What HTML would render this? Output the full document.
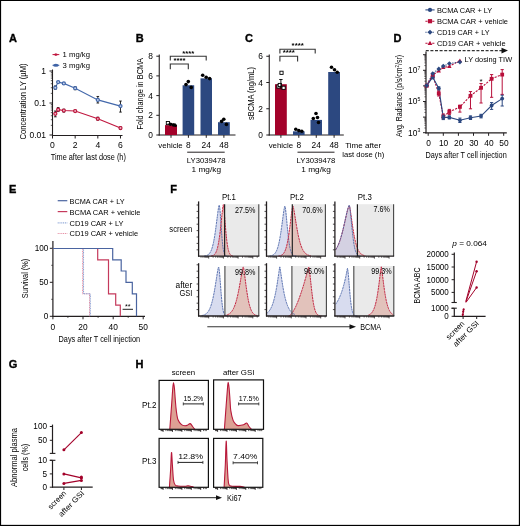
<!DOCTYPE html>
<html><head><meta charset="utf-8"><style>
html,body{margin:0;padding:0;background:#fff;}
svg{display:block;font-family:"Liberation Sans",sans-serif;will-change:transform;}
</style></head><body>
<svg width="520" height="526" viewBox="0 0 520 526">
<rect x="0" y="0" width="520" height="526" fill="#fff"/>
<text x="9" y="41.9" font-size="11" font-weight="bold" fill="#000" stroke="#000" stroke-width="0.35">A</text>
<text x="135.7" y="41.9" font-size="11" font-weight="bold" fill="#000" stroke="#000" stroke-width="0.35">B</text>
<text x="245" y="42.4" font-size="11" font-weight="bold" fill="#000" stroke="#000" stroke-width="0.35">C</text>
<text x="393.5" y="41.9" font-size="11" font-weight="bold" fill="#000" stroke="#000" stroke-width="0.35">D</text>
<text x="9" y="192.6" font-size="11" font-weight="bold" fill="#000" stroke="#000" stroke-width="0.35">E</text>
<text x="170.2" y="192.7" font-size="11" font-weight="bold" fill="#000" stroke="#000" stroke-width="0.35">F</text>
<text x="8.7" y="368.2" font-size="11" font-weight="bold" fill="#000" stroke="#000" stroke-width="0.35">G</text>
<text x="135.4" y="367.7" font-size="11" font-weight="bold" fill="#000" stroke="#000" stroke-width="0.35">H</text>
<line x1="52.5" y1="54.6" x2="59.3" y2="54.6" stroke="#c0173f" stroke-width="1.0"/>
<polygon points="53.2,54.6 55.9,53.2 58.6,54.6 55.9,56" fill="#c0173f" stroke="none" stroke-width="1"/>
<text x="62.6" y="56.9" font-size="7.9" textLength="27.4" lengthAdjust="spacingAndGlyphs">1 mg/kg</text>
<line x1="52.5" y1="65.3" x2="59.3" y2="65.3" stroke="#4368ab" stroke-width="1.0"/>
<ellipse cx="55.9" cy="65.3" rx="2.8" ry="1.5" fill="#3f63a6"/>
<text x="62.6" y="68.2" font-size="7.9" textLength="27.4" lengthAdjust="spacingAndGlyphs">3 mg/kg</text>
<line x1="52.5" y1="69.5" x2="52.5" y2="136" stroke="#231f20" stroke-width="1.1"/>
<line x1="52" y1="135.5" x2="122.5" y2="135.5" stroke="#231f20" stroke-width="1.1"/>
<line x1="49.5" y1="71" x2="52.5" y2="71" stroke="#231f20" stroke-width="1"/>
<text x="46" y="74" font-size="8.5" text-anchor="end">1</text>
<line x1="49.5" y1="103" x2="52.5" y2="103" stroke="#231f20" stroke-width="1"/>
<text x="46" y="106" font-size="8.5" text-anchor="end">0.1</text>
<line x1="49.5" y1="135" x2="52.5" y2="135" stroke="#231f20" stroke-width="1"/>
<text x="46" y="138" font-size="8.5" text-anchor="end">0.01</text>
<line x1="50.8" y1="125.37" x2="52.5" y2="125.37" stroke="#231f20" stroke-width="0.7"/>
<line x1="50.8" y1="119.73" x2="52.5" y2="119.73" stroke="#231f20" stroke-width="0.7"/>
<line x1="50.8" y1="115.73" x2="52.5" y2="115.73" stroke="#231f20" stroke-width="0.7"/>
<line x1="50.8" y1="112.63" x2="52.5" y2="112.63" stroke="#231f20" stroke-width="0.7"/>
<line x1="50.8" y1="110.1" x2="52.5" y2="110.1" stroke="#231f20" stroke-width="0.7"/>
<line x1="50.8" y1="107.96" x2="52.5" y2="107.96" stroke="#231f20" stroke-width="0.7"/>
<line x1="50.8" y1="106.1" x2="52.5" y2="106.1" stroke="#231f20" stroke-width="0.7"/>
<line x1="50.8" y1="104.46" x2="52.5" y2="104.46" stroke="#231f20" stroke-width="0.7"/>
<line x1="50.8" y1="93.37" x2="52.5" y2="93.37" stroke="#231f20" stroke-width="0.7"/>
<line x1="50.8" y1="87.73" x2="52.5" y2="87.73" stroke="#231f20" stroke-width="0.7"/>
<line x1="50.8" y1="83.73" x2="52.5" y2="83.73" stroke="#231f20" stroke-width="0.7"/>
<line x1="50.8" y1="80.63" x2="52.5" y2="80.63" stroke="#231f20" stroke-width="0.7"/>
<line x1="50.8" y1="78.1" x2="52.5" y2="78.1" stroke="#231f20" stroke-width="0.7"/>
<line x1="50.8" y1="75.96" x2="52.5" y2="75.96" stroke="#231f20" stroke-width="0.7"/>
<line x1="50.8" y1="74.1" x2="52.5" y2="74.1" stroke="#231f20" stroke-width="0.7"/>
<line x1="50.8" y1="72.46" x2="52.5" y2="72.46" stroke="#231f20" stroke-width="0.7"/>
<line x1="52.5" y1="135.5" x2="52.5" y2="138.5" stroke="#231f20" stroke-width="1"/>
<text x="52.5" y="148.4" font-size="8.6" text-anchor="middle">0</text>
<line x1="75.16" y1="135.5" x2="75.16" y2="138.5" stroke="#231f20" stroke-width="1"/>
<text x="75.16" y="148.4" font-size="8.6" text-anchor="middle">2</text>
<line x1="97.82" y1="135.5" x2="97.82" y2="138.5" stroke="#231f20" stroke-width="1"/>
<text x="97.82" y="148.4" font-size="8.6" text-anchor="middle">4</text>
<line x1="120.48" y1="135.5" x2="120.48" y2="138.5" stroke="#231f20" stroke-width="1"/>
<text x="120.48" y="148.4" font-size="8.6" text-anchor="middle">6</text>
<text x="88.3" y="160.4" font-size="9.3" text-anchor="middle" textLength="75.2" lengthAdjust="spacingAndGlyphs">Time after last dose (h)</text>
<text x="25.6" y="101.5" font-size="9.2" text-anchor="middle" textLength="76" lengthAdjust="spacingAndGlyphs" transform="rotate(-90 25.6 101.5)">Concentration LY (µM)</text>
<polyline points="55.33,87.73 58.16,82.1 63.83,83.39 75.16,88.2 97.82,99.9 120.48,106.1" stroke="#4368ab" stroke-width="1.1" fill="none"/>
<line x1="55.33" y1="85.99" x2="55.33" y2="89.2" stroke="#111" stroke-width="0.9"/>
<line x1="54.03" y1="85.99" x2="56.63" y2="85.99" stroke="#111" stroke-width="0.9"/>
<line x1="54.03" y1="89.2" x2="56.63" y2="89.2" stroke="#111" stroke-width="0.9"/>
<circle cx="55.33" cy="87.73" r="1.55" fill="#c9d3ea" stroke="#4368ab" stroke-width="1.2"/>
<line x1="58.16" y1="81.49" x2="58.16" y2="82.73" stroke="#111" stroke-width="0.9"/>
<line x1="56.87" y1="81.49" x2="59.46" y2="81.49" stroke="#111" stroke-width="0.9"/>
<line x1="56.87" y1="82.73" x2="59.46" y2="82.73" stroke="#111" stroke-width="0.9"/>
<circle cx="58.16" cy="82.1" r="1.55" fill="#c9d3ea" stroke="#4368ab" stroke-width="1.2"/>
<line x1="63.83" y1="82.73" x2="63.83" y2="84.09" stroke="#111" stroke-width="0.9"/>
<line x1="62.53" y1="82.73" x2="65.13" y2="82.73" stroke="#111" stroke-width="0.9"/>
<line x1="62.53" y1="84.09" x2="65.13" y2="84.09" stroke="#111" stroke-width="0.9"/>
<circle cx="63.83" cy="83.39" r="1.55" fill="#c9d3ea" stroke="#4368ab" stroke-width="1.2"/>
<line x1="75.16" y1="86.84" x2="75.16" y2="89.72" stroke="#111" stroke-width="0.9"/>
<line x1="73.86" y1="86.84" x2="76.46" y2="86.84" stroke="#111" stroke-width="0.9"/>
<line x1="73.86" y1="89.72" x2="76.46" y2="89.72" stroke="#111" stroke-width="0.9"/>
<circle cx="75.16" cy="88.2" r="1.55" fill="#c9d3ea" stroke="#4368ab" stroke-width="1.2"/>
<line x1="97.82" y1="96.47" x2="97.82" y2="103" stroke="#111" stroke-width="0.9"/>
<line x1="96.52" y1="96.47" x2="99.12" y2="96.47" stroke="#111" stroke-width="0.9"/>
<line x1="96.52" y1="103" x2="99.12" y2="103" stroke="#111" stroke-width="0.9"/>
<circle cx="97.82" cy="99.9" r="1.55" fill="#c9d3ea" stroke="#4368ab" stroke-width="1.2"/>
<line x1="120.48" y1="101.06" x2="120.48" y2="112.09" stroke="#111" stroke-width="0.9"/>
<line x1="119.18" y1="101.06" x2="121.78" y2="101.06" stroke="#111" stroke-width="0.9"/>
<line x1="119.18" y1="112.09" x2="121.78" y2="112.09" stroke="#111" stroke-width="0.9"/>
<circle cx="120.48" cy="106.1" r="1.55" fill="#c9d3ea" stroke="#4368ab" stroke-width="1.2"/>
<polyline points="55.33,113.79 58.16,109.64 63.83,110.57 75.16,111.06 97.82,118.84 120.48,128.04" stroke="#c0173f" stroke-width="1.1" fill="none"/>
<line x1="55.33" y1="111.06" x2="55.33" y2="116.82" stroke="#111" stroke-width="0.9"/>
<line x1="54.03" y1="111.06" x2="56.63" y2="111.06" stroke="#111" stroke-width="0.9"/>
<line x1="54.03" y1="116.82" x2="56.63" y2="116.82" stroke="#111" stroke-width="0.9"/>
<circle cx="55.33" cy="113.79" r="1.55" fill="#eab3c0" stroke="#c0173f" stroke-width="1.2"/>
<line x1="58.16" y1="107.57" x2="58.16" y2="111.56" stroke="#111" stroke-width="0.9"/>
<line x1="56.87" y1="107.57" x2="59.46" y2="107.57" stroke="#111" stroke-width="0.9"/>
<line x1="56.87" y1="111.56" x2="59.46" y2="111.56" stroke="#111" stroke-width="0.9"/>
<circle cx="58.16" cy="109.64" r="1.55" fill="#eab3c0" stroke="#c0173f" stroke-width="1.2"/>
<line x1="63.83" y1="109.2" x2="63.83" y2="112.09" stroke="#111" stroke-width="0.9"/>
<line x1="62.53" y1="109.2" x2="65.13" y2="109.2" stroke="#111" stroke-width="0.9"/>
<line x1="62.53" y1="112.09" x2="65.13" y2="112.09" stroke="#111" stroke-width="0.9"/>
<circle cx="63.83" cy="110.57" r="1.55" fill="#eab3c0" stroke="#c0173f" stroke-width="1.2"/>
<line x1="75.16" y1="110.1" x2="75.16" y2="111.82" stroke="#111" stroke-width="0.9"/>
<line x1="73.86" y1="110.1" x2="76.46" y2="110.1" stroke="#111" stroke-width="0.9"/>
<line x1="73.86" y1="111.82" x2="76.46" y2="111.82" stroke="#111" stroke-width="0.9"/>
<circle cx="75.16" cy="111.06" r="1.55" fill="#eab3c0" stroke="#c0173f" stroke-width="1.2"/>
<line x1="97.82" y1="117.2" x2="97.82" y2="120.2" stroke="#111" stroke-width="0.9"/>
<line x1="96.52" y1="117.2" x2="99.12" y2="117.2" stroke="#111" stroke-width="0.9"/>
<line x1="96.52" y1="120.2" x2="99.12" y2="120.2" stroke="#111" stroke-width="0.9"/>
<circle cx="97.82" cy="118.84" r="1.55" fill="#eab3c0" stroke="#c0173f" stroke-width="1.2"/>
<line x1="120.48" y1="126.83" x2="120.48" y2="129.37" stroke="#111" stroke-width="0.9"/>
<line x1="119.18" y1="126.83" x2="121.78" y2="126.83" stroke="#111" stroke-width="0.9"/>
<line x1="119.18" y1="129.37" x2="121.78" y2="129.37" stroke="#111" stroke-width="0.9"/>
<circle cx="120.48" cy="128.04" r="1.55" fill="#eab3c0" stroke="#c0173f" stroke-width="1.2"/>
<line x1="159.25" y1="54.5" x2="159.25" y2="135.5" stroke="#231f20" stroke-width="1.1"/>
<line x1="158.7" y1="135" x2="235.5" y2="135" stroke="#231f20" stroke-width="1.1"/>
<line x1="156.3" y1="135" x2="159.25" y2="135" stroke="#231f20" stroke-width="1"/>
<text x="153" y="138" font-size="8.4" text-anchor="end">0</text>
<line x1="156.3" y1="115.3" x2="159.25" y2="115.3" stroke="#231f20" stroke-width="1"/>
<text x="153" y="118.3" font-size="8.4" text-anchor="end">2</text>
<line x1="156.3" y1="95.6" x2="159.25" y2="95.6" stroke="#231f20" stroke-width="1"/>
<text x="153" y="98.6" font-size="8.4" text-anchor="end">4</text>
<line x1="156.3" y1="75.9" x2="159.25" y2="75.9" stroke="#231f20" stroke-width="1"/>
<text x="153" y="78.9" font-size="8.4" text-anchor="end">6</text>
<line x1="156.3" y1="56.2" x2="159.25" y2="56.2" stroke="#231f20" stroke-width="1"/>
<text x="153" y="59.2" font-size="8.4" text-anchor="end">8</text>
<text x="142.7" y="93.8" font-size="9.0" text-anchor="middle" textLength="71.6" lengthAdjust="spacingAndGlyphs" transform="rotate(-90 142.7 93.8)">Fold change in BCMA</text>
<rect x="165" y="125.15" width="12" height="9.85" fill="#a3022a" stroke="none" stroke-width="1"/>
<line x1="171" y1="135" x2="171" y2="137.8" stroke="#231f20" stroke-width="1"/>
<rect x="182.6" y="85.26" width="11.6" height="49.74" fill="#2c4880" stroke="none" stroke-width="1"/>
<line x1="188.4" y1="135" x2="188.4" y2="137.8" stroke="#231f20" stroke-width="1"/>
<rect x="200.5" y="78.36" width="11.5" height="56.64" fill="#2c4880" stroke="none" stroke-width="1"/>
<line x1="206.25" y1="135" x2="206.25" y2="137.8" stroke="#231f20" stroke-width="1"/>
<rect x="218" y="122.19" width="11.8" height="12.81" fill="#2c4880" stroke="none" stroke-width="1"/>
<line x1="223.9" y1="135" x2="223.9" y2="137.8" stroke="#231f20" stroke-width="1"/>
<circle cx="188.3" cy="81.6" r="1.8" fill="#000" stroke="none" stroke-width="1"/>
<circle cx="186" cy="84.6" r="1.8" fill="#000" stroke="none" stroke-width="1"/>
<circle cx="191.2" cy="87.4" r="1.8" fill="#000" stroke="none" stroke-width="1"/>
<circle cx="202.7" cy="75.2" r="1.8" fill="#000" stroke="none" stroke-width="1"/>
<circle cx="206.2" cy="77.3" r="1.8" fill="#000" stroke="none" stroke-width="1"/>
<circle cx="209.6" cy="78.6" r="1.8" fill="#000" stroke="none" stroke-width="1"/>
<circle cx="223.8" cy="119.2" r="1.8" fill="#000" stroke="none" stroke-width="1"/>
<circle cx="221.6" cy="121.4" r="1.8" fill="#000" stroke="none" stroke-width="1"/>
<circle cx="226.4" cy="124.4" r="1.8" fill="#000" stroke="none" stroke-width="1"/>
<rect x="166.3" y="121.5" width="3.2" height="3.2" fill="#fff" stroke="#000" stroke-width="0.9"/>
<circle cx="170.5" cy="124.2" r="1.8" fill="#000" stroke="none" stroke-width="1"/>
<circle cx="173.5" cy="125" r="1.8" fill="#000" stroke="none" stroke-width="1"/>
<circle cx="175.5" cy="125.6" r="1.5" fill="#000" stroke="none" stroke-width="1"/>
<line x1="167.5" y1="124" x2="176" y2="124" stroke="#000" stroke-width="0.9"/>
<text x="170.5" y="147.8" font-size="8.0" text-anchor="middle" textLength="24.5" lengthAdjust="spacingAndGlyphs">vehicle</text>
<text x="188.3" y="148" font-size="8.4" text-anchor="middle">8</text>
<text x="206.2" y="148" font-size="8.4" text-anchor="middle">24</text>
<text x="224" y="148" font-size="8.4" text-anchor="middle">48</text>
<line x1="187.2" y1="152.2" x2="224.7" y2="152.2" stroke="#231f20" stroke-width="1.0"/>
<text x="206.2" y="162.6" font-size="8.0" text-anchor="middle" textLength="38.8" lengthAdjust="spacingAndGlyphs">LY3039478</text>
<text x="206.3" y="172" font-size="8.0" text-anchor="middle" textLength="29.5" lengthAdjust="spacingAndGlyphs">1 mg/kg</text>
<polyline points="170.3,60.6 170.3,56.3 206.2,56.3 206.2,60.6" stroke="#333" stroke-width="1.1" fill="none"/>
<polyline points="170.3,69.2 170.3,64 188.3,64 188.3,69.2" stroke="#333" stroke-width="1.1" fill="none"/>
<text x="188.3" y="55.8" font-size="7.5" text-anchor="middle" textLength="12.2" lengthAdjust="spacingAndGlyphs" font-weight="bold">****</text>
<text x="179.5" y="63" font-size="7.5" text-anchor="middle" textLength="12.2" lengthAdjust="spacingAndGlyphs" font-weight="bold">****</text>
<line x1="269.25" y1="54.5" x2="269.25" y2="135.5" stroke="#231f20" stroke-width="1.1"/>
<line x1="268.7" y1="135" x2="343.8" y2="135" stroke="#231f20" stroke-width="1.1"/>
<line x1="266.3" y1="135" x2="269.25" y2="135" stroke="#231f20" stroke-width="1"/>
<text x="262.9" y="138" font-size="8.4" text-anchor="end">0</text>
<line x1="266.3" y1="108.75" x2="269.25" y2="108.75" stroke="#231f20" stroke-width="1"/>
<text x="262.9" y="111.75" font-size="8.4" text-anchor="end">2</text>
<line x1="266.3" y1="82.5" x2="269.25" y2="82.5" stroke="#231f20" stroke-width="1"/>
<text x="262.9" y="85.5" font-size="8.4" text-anchor="end">4</text>
<line x1="266.3" y1="56.25" x2="269.25" y2="56.25" stroke="#231f20" stroke-width="1"/>
<text x="262.9" y="59.25" font-size="8.4" text-anchor="end">6</text>
<text x="254.2" y="93.5" font-size="8.8" text-anchor="middle" textLength="53" lengthAdjust="spacingAndGlyphs" transform="rotate(-90 254.2 93.5)">sBCMA (ng/mL)</text>
<rect x="275" y="84.21" width="11.8" height="50.79" fill="#a3022a" stroke="none" stroke-width="1"/>
<line x1="280.9" y1="135" x2="280.9" y2="137.8" stroke="#231f20" stroke-width="1"/>
<rect x="293" y="131.32" width="11.6" height="3.68" fill="#2c4880" stroke="none" stroke-width="1"/>
<line x1="298.8" y1="135" x2="298.8" y2="137.8" stroke="#231f20" stroke-width="1"/>
<rect x="310.5" y="119.91" width="11.5" height="15.09" fill="#2c4880" stroke="none" stroke-width="1"/>
<line x1="316.25" y1="135" x2="316.25" y2="137.8" stroke="#231f20" stroke-width="1"/>
<rect x="328.2" y="72" width="11.8" height="63" fill="#2c4880" stroke="none" stroke-width="1"/>
<line x1="334.1" y1="135" x2="334.1" y2="137.8" stroke="#231f20" stroke-width="1"/>
<circle cx="295.8" cy="129.3" r="1.8" fill="#000" stroke="none" stroke-width="1"/>
<circle cx="298.8" cy="130.6" r="1.8" fill="#000" stroke="none" stroke-width="1"/>
<circle cx="301.8" cy="131.2" r="1.8" fill="#000" stroke="none" stroke-width="1"/>
<circle cx="316" cy="113.5" r="1.8" fill="#000" stroke="none" stroke-width="1"/>
<circle cx="313.3" cy="118.5" r="1.8" fill="#000" stroke="none" stroke-width="1"/>
<circle cx="318.5" cy="122.5" r="1.8" fill="#000" stroke="none" stroke-width="1"/>
<circle cx="317.5" cy="117.5" r="1.8" fill="#000" stroke="none" stroke-width="1"/>
<circle cx="331.5" cy="67.2" r="1.8" fill="#000" stroke="none" stroke-width="1"/>
<circle cx="334.5" cy="69.8" r="1.8" fill="#000" stroke="none" stroke-width="1"/>
<circle cx="337.2" cy="72.2" r="1.8" fill="#000" stroke="none" stroke-width="1"/>
<rect x="279.9" y="71.2" width="3.2" height="3.2" fill="#fff" stroke="#000" stroke-width="0.9"/>
<rect x="276.9" y="84.9" width="3.2" height="3.2" fill="#fff" stroke="#000" stroke-width="0.9"/>
<rect x="282" y="86.2" width="3.2" height="3.2" fill="#fff" stroke="#000" stroke-width="0.9"/>
<rect x="278.2" y="83.4" width="3.2" height="3.2" fill="#fff" stroke="#000" stroke-width="0.9"/>
<line x1="280.9" y1="79.5" x2="280.9" y2="89.2" stroke="#000" stroke-width="0.9"/>
<line x1="279.2" y1="79.5" x2="282.6" y2="79.5" stroke="#000" stroke-width="0.9"/>
<text x="280.9" y="147.8" font-size="8.0" text-anchor="middle" textLength="24.5" lengthAdjust="spacingAndGlyphs">vehicle</text>
<text x="298.8" y="148" font-size="8.4" text-anchor="middle">8</text>
<text x="316.2" y="148" font-size="8.4" text-anchor="middle">24</text>
<text x="334.1" y="148" font-size="8.4" text-anchor="middle">48</text>
<text x="345.2" y="147.8" font-size="8.0" textLength="36" lengthAdjust="spacingAndGlyphs">Time after</text>
<text x="342.2" y="157.3" font-size="8.0" textLength="42" lengthAdjust="spacingAndGlyphs">last dose (h)</text>
<line x1="297.5" y1="152.2" x2="334.5" y2="152.2" stroke="#231f20" stroke-width="1.0"/>
<text x="316" y="162.6" font-size="8.0" text-anchor="middle" textLength="38.8" lengthAdjust="spacingAndGlyphs">LY3039478</text>
<text x="316" y="172" font-size="8.0" text-anchor="middle" textLength="29.5" lengthAdjust="spacingAndGlyphs">1 mg/kg</text>
<polyline points="279.9,53.4 279.9,49.2 315.2,49.2 315.2,53.4" stroke="#333" stroke-width="1.1" fill="none"/>
<polyline points="279.9,61.6 279.9,56.2 297.6,56.2 297.6,61.6" stroke="#333" stroke-width="1.1" fill="none"/>
<text x="297.7" y="48" font-size="7.5" text-anchor="middle" textLength="12.2" lengthAdjust="spacingAndGlyphs" font-weight="bold">****</text>
<text x="288.8" y="55.3" font-size="7.5" text-anchor="middle" textLength="12.2" lengthAdjust="spacingAndGlyphs" font-weight="bold">****</text>
<line x1="425.4" y1="9.9" x2="434.6" y2="9.9" stroke="#2c4880" stroke-width="1.1"/>
<circle cx="430" cy="9.9" r="2.09" fill="#2c4880" stroke="none" stroke-width="1"/>
<text x="436.9" y="12.9" font-size="7.7" textLength="55.4" lengthAdjust="spacingAndGlyphs">BCMA CAR + LY</text>
<line x1="425.4" y1="21.2" x2="434.6" y2="21.2" stroke="#b80f3a" stroke-width="1.1" stroke-dasharray="2.2,1.2"/>
<rect x="427.91" y="19.11" width="4.18" height="4.18" fill="#b80f3a" stroke="none" stroke-width="1"/>
<text x="436.9" y="24.2" font-size="7.7" textLength="71.1" lengthAdjust="spacingAndGlyphs">BCMA CAR + vehicle</text>
<line x1="425.4" y1="32.3" x2="434.6" y2="32.3" stroke="#2c4880" stroke-width="1.1" stroke-dasharray="1.2,1.2"/>
<polygon points="427.47,32.3 430,29.77 432.53,32.3 430,34.83" fill="#2c4880" stroke="none" stroke-width="1"/>
<text x="436.9" y="35.3" font-size="7.7" textLength="52.6" lengthAdjust="spacingAndGlyphs">CD19 CAR + LY</text>
<line x1="425.4" y1="43.2" x2="434.6" y2="43.2" stroke="#b80f3a" stroke-width="1.1" stroke-dasharray="2.2,1.2"/>
<polygon points="427.58,44.96 430,40.78 432.42,44.96" fill="#b80f3a" stroke="none" stroke-width="1"/>
<text x="436.9" y="46.2" font-size="7.7" textLength="68.8" lengthAdjust="spacingAndGlyphs">CD19 CAR + vehicle</text>
<line x1="425.8" y1="50.6" x2="502.5" y2="50.6" stroke="#333" stroke-width="1.4" stroke-dasharray="3,1.6"/>
<polygon points="501.5,47.8 508,50.6 501.5,53.4" fill="#111" stroke="none" stroke-width="1"/>
<text x="464.6" y="62.2" font-size="7.7" textLength="47.5" lengthAdjust="spacingAndGlyphs">LY dosing TIW</text>
<line x1="426" y1="51.5" x2="426" y2="133.4" stroke="#231f20" stroke-width="1.2"/>
<line x1="425.4" y1="132.9" x2="506.8" y2="132.9" stroke="#231f20" stroke-width="1.2"/>
<line x1="423" y1="132.7" x2="426" y2="132.7" stroke="#231f20" stroke-width="1"/>
<line x1="424.3" y1="128" x2="426" y2="128" stroke="#231f20" stroke-width="0.6"/>
<line x1="424.3" y1="125.26" x2="426" y2="125.26" stroke="#231f20" stroke-width="0.6"/>
<line x1="424.3" y1="123.31" x2="426" y2="123.31" stroke="#231f20" stroke-width="0.6"/>
<line x1="424.3" y1="121.8" x2="426" y2="121.8" stroke="#231f20" stroke-width="0.6"/>
<line x1="424.3" y1="120.56" x2="426" y2="120.56" stroke="#231f20" stroke-width="0.6"/>
<line x1="424.3" y1="119.52" x2="426" y2="119.52" stroke="#231f20" stroke-width="0.6"/>
<line x1="424.3" y1="118.61" x2="426" y2="118.61" stroke="#231f20" stroke-width="0.6"/>
<line x1="424.3" y1="117.81" x2="426" y2="117.81" stroke="#231f20" stroke-width="0.6"/>
<line x1="423" y1="117.1" x2="426" y2="117.1" stroke="#231f20" stroke-width="1"/>
<line x1="424.3" y1="112.4" x2="426" y2="112.4" stroke="#231f20" stroke-width="0.6"/>
<line x1="424.3" y1="109.66" x2="426" y2="109.66" stroke="#231f20" stroke-width="0.6"/>
<line x1="424.3" y1="107.71" x2="426" y2="107.71" stroke="#231f20" stroke-width="0.6"/>
<line x1="424.3" y1="106.2" x2="426" y2="106.2" stroke="#231f20" stroke-width="0.6"/>
<line x1="424.3" y1="104.96" x2="426" y2="104.96" stroke="#231f20" stroke-width="0.6"/>
<line x1="424.3" y1="103.92" x2="426" y2="103.92" stroke="#231f20" stroke-width="0.6"/>
<line x1="424.3" y1="103.01" x2="426" y2="103.01" stroke="#231f20" stroke-width="0.6"/>
<line x1="424.3" y1="102.21" x2="426" y2="102.21" stroke="#231f20" stroke-width="0.6"/>
<line x1="423" y1="101.5" x2="426" y2="101.5" stroke="#231f20" stroke-width="1"/>
<line x1="424.3" y1="96.8" x2="426" y2="96.8" stroke="#231f20" stroke-width="0.6"/>
<line x1="424.3" y1="94.06" x2="426" y2="94.06" stroke="#231f20" stroke-width="0.6"/>
<line x1="424.3" y1="92.11" x2="426" y2="92.11" stroke="#231f20" stroke-width="0.6"/>
<line x1="424.3" y1="90.6" x2="426" y2="90.6" stroke="#231f20" stroke-width="0.6"/>
<line x1="424.3" y1="89.36" x2="426" y2="89.36" stroke="#231f20" stroke-width="0.6"/>
<line x1="424.3" y1="88.32" x2="426" y2="88.32" stroke="#231f20" stroke-width="0.6"/>
<line x1="424.3" y1="87.41" x2="426" y2="87.41" stroke="#231f20" stroke-width="0.6"/>
<line x1="424.3" y1="86.61" x2="426" y2="86.61" stroke="#231f20" stroke-width="0.6"/>
<line x1="423" y1="85.9" x2="426" y2="85.9" stroke="#231f20" stroke-width="1"/>
<line x1="424.3" y1="81.2" x2="426" y2="81.2" stroke="#231f20" stroke-width="0.6"/>
<line x1="424.3" y1="78.46" x2="426" y2="78.46" stroke="#231f20" stroke-width="0.6"/>
<line x1="424.3" y1="76.51" x2="426" y2="76.51" stroke="#231f20" stroke-width="0.6"/>
<line x1="424.3" y1="75" x2="426" y2="75" stroke="#231f20" stroke-width="0.6"/>
<line x1="424.3" y1="73.76" x2="426" y2="73.76" stroke="#231f20" stroke-width="0.6"/>
<line x1="424.3" y1="72.72" x2="426" y2="72.72" stroke="#231f20" stroke-width="0.6"/>
<line x1="424.3" y1="71.81" x2="426" y2="71.81" stroke="#231f20" stroke-width="0.6"/>
<line x1="424.3" y1="71.01" x2="426" y2="71.01" stroke="#231f20" stroke-width="0.6"/>
<line x1="423" y1="70.3" x2="426" y2="70.3" stroke="#231f20" stroke-width="1"/>
<line x1="424.3" y1="65.6" x2="426" y2="65.6" stroke="#231f20" stroke-width="0.6"/>
<line x1="424.3" y1="62.86" x2="426" y2="62.86" stroke="#231f20" stroke-width="0.6"/>
<line x1="424.3" y1="60.91" x2="426" y2="60.91" stroke="#231f20" stroke-width="0.6"/>
<line x1="424.3" y1="59.4" x2="426" y2="59.4" stroke="#231f20" stroke-width="0.6"/>
<line x1="424.3" y1="58.16" x2="426" y2="58.16" stroke="#231f20" stroke-width="0.6"/>
<line x1="424.3" y1="57.12" x2="426" y2="57.12" stroke="#231f20" stroke-width="0.6"/>
<line x1="424.3" y1="56.21" x2="426" y2="56.21" stroke="#231f20" stroke-width="0.6"/>
<line x1="424.3" y1="55.41" x2="426" y2="55.41" stroke="#231f20" stroke-width="0.6"/>
<line x1="423" y1="54.7" x2="426" y2="54.7" stroke="#231f20" stroke-width="1"/>
<text x="417.4" y="135.6" font-size="8.4" text-anchor="end">10</text>
<text x="417.6" y="132.1" font-size="5.2">3</text>
<text x="417.4" y="104.4" font-size="8.4" text-anchor="end">10</text>
<text x="417.6" y="100.9" font-size="5.2">5</text>
<text x="417.4" y="73.2" font-size="8.4" text-anchor="end">10</text>
<text x="417.6" y="69.7" font-size="5.2">7</text>
<line x1="428.2" y1="132.9" x2="428.2" y2="135.8" stroke="#231f20" stroke-width="1"/>
<text x="428.5" y="146.1" font-size="8.4" text-anchor="middle">0</text>
<line x1="443.3" y1="132.9" x2="443.3" y2="135.8" stroke="#231f20" stroke-width="1"/>
<text x="443.6" y="146.1" font-size="8.4" text-anchor="middle">10</text>
<line x1="458.4" y1="132.9" x2="458.4" y2="135.8" stroke="#231f20" stroke-width="1"/>
<text x="458.7" y="146.1" font-size="8.4" text-anchor="middle">20</text>
<line x1="473.5" y1="132.9" x2="473.5" y2="135.8" stroke="#231f20" stroke-width="1"/>
<text x="473.8" y="146.1" font-size="8.4" text-anchor="middle">30</text>
<line x1="488.6" y1="132.9" x2="488.6" y2="135.8" stroke="#231f20" stroke-width="1"/>
<text x="488.9" y="146.1" font-size="8.4" text-anchor="middle">40</text>
<line x1="503.7" y1="132.9" x2="503.7" y2="135.8" stroke="#231f20" stroke-width="1"/>
<text x="504" y="146.1" font-size="8.4" text-anchor="middle">50</text>
<text x="466.1" y="158.3" font-size="8.6" text-anchor="middle" textLength="81.3" lengthAdjust="spacingAndGlyphs">Days after T cell injection</text>
<text x="401.6" y="96" font-size="8.8" text-anchor="middle" textLength="82" lengthAdjust="spacingAndGlyphs" transform="rotate(-90 401.6 96)">Avg. Radiance (p/s/cm<tspan font-size="5.6" dy="-2.8">2</tspan><tspan dy="2.8">/sr)</tspan></text>
<polyline points="426.69,85.6 432.73,75 438.77,71 443.3,67.5 449.34,66.3 459.91,60.6" stroke="#b80f3a" stroke-width="1.1" fill="none" stroke-dasharray="2.2,1.2"/>
<polyline points="426.69,85.6 432.73,73.6 438.77,68.9 443.3,66.1 449.34,63.5 459.91,62.1" stroke="#2c4880" stroke-width="1.1" fill="none" stroke-dasharray="1.2,1.2"/>
<polyline points="426.69,85.6 432.73,75.6 438.77,93.5 443.3,116.5 449.34,111.9 459.91,106.9 470.48,95.8 481.05,87.8 491.62,78.8 502.19,74.6" stroke="#b80f3a" stroke-width="1.1" fill="none" stroke-dasharray="2.2,1.2"/>
<polyline points="426.69,85.6 432.73,77.3 438.77,88.3 443.3,117.4 449.34,117.4 459.91,120.3 470.48,117.7 481.05,116.1 491.62,105.5 502.19,98.6" stroke="#2c4880" stroke-width="1.1" fill="none"/>
<rect x="424.79" y="83.7" width="3.8" height="3.8" fill="#b80f3a" stroke="none" stroke-width="1"/>
<line x1="432.73" y1="73.6" x2="432.73" y2="77.6" stroke="#b80f3a" stroke-width="1"/>
<line x1="431.13" y1="73.6" x2="434.33" y2="73.6" stroke="#b80f3a" stroke-width="1"/>
<line x1="431.13" y1="77.6" x2="434.33" y2="77.6" stroke="#b80f3a" stroke-width="1"/>
<rect x="430.83" y="73.7" width="3.8" height="3.8" fill="#b80f3a" stroke="none" stroke-width="1"/>
<line x1="438.77" y1="91" x2="438.77" y2="96" stroke="#b80f3a" stroke-width="1"/>
<line x1="437.17" y1="91" x2="440.37" y2="91" stroke="#b80f3a" stroke-width="1"/>
<line x1="437.17" y1="96" x2="440.37" y2="96" stroke="#b80f3a" stroke-width="1"/>
<rect x="436.87" y="91.6" width="3.8" height="3.8" fill="#b80f3a" stroke="none" stroke-width="1"/>
<line x1="443.3" y1="114" x2="443.3" y2="119" stroke="#b80f3a" stroke-width="1"/>
<line x1="441.7" y1="114" x2="444.9" y2="114" stroke="#b80f3a" stroke-width="1"/>
<line x1="441.7" y1="119" x2="444.9" y2="119" stroke="#b80f3a" stroke-width="1"/>
<rect x="441.4" y="114.6" width="3.8" height="3.8" fill="#b80f3a" stroke="none" stroke-width="1"/>
<line x1="449.34" y1="109.4" x2="449.34" y2="114.4" stroke="#b80f3a" stroke-width="1"/>
<line x1="447.74" y1="109.4" x2="450.94" y2="109.4" stroke="#b80f3a" stroke-width="1"/>
<line x1="447.74" y1="114.4" x2="450.94" y2="114.4" stroke="#b80f3a" stroke-width="1"/>
<rect x="447.44" y="110" width="3.8" height="3.8" fill="#b80f3a" stroke="none" stroke-width="1"/>
<line x1="459.91" y1="105.1" x2="459.91" y2="112.1" stroke="#b80f3a" stroke-width="1"/>
<line x1="458.31" y1="105.1" x2="461.51" y2="105.1" stroke="#b80f3a" stroke-width="1"/>
<line x1="458.31" y1="112.1" x2="461.51" y2="112.1" stroke="#b80f3a" stroke-width="1"/>
<rect x="458.01" y="105" width="3.8" height="3.8" fill="#b80f3a" stroke="none" stroke-width="1"/>
<line x1="470.48" y1="91.6" x2="470.48" y2="108.8" stroke="#b80f3a" stroke-width="1"/>
<line x1="468.88" y1="91.6" x2="472.08" y2="91.6" stroke="#b80f3a" stroke-width="1"/>
<line x1="468.88" y1="108.8" x2="472.08" y2="108.8" stroke="#b80f3a" stroke-width="1"/>
<rect x="468.58" y="93.9" width="3.8" height="3.8" fill="#b80f3a" stroke="none" stroke-width="1"/>
<line x1="481.05" y1="83.5" x2="481.05" y2="103" stroke="#b80f3a" stroke-width="1"/>
<line x1="479.45" y1="83.5" x2="482.65" y2="83.5" stroke="#b80f3a" stroke-width="1"/>
<line x1="479.45" y1="103" x2="482.65" y2="103" stroke="#b80f3a" stroke-width="1"/>
<rect x="479.15" y="85.9" width="3.8" height="3.8" fill="#b80f3a" stroke="none" stroke-width="1"/>
<line x1="491.62" y1="74.6" x2="491.62" y2="97.3" stroke="#b80f3a" stroke-width="1"/>
<line x1="490.02" y1="74.6" x2="493.22" y2="74.6" stroke="#b80f3a" stroke-width="1"/>
<line x1="490.02" y1="97.3" x2="493.22" y2="97.3" stroke="#b80f3a" stroke-width="1"/>
<rect x="489.72" y="76.9" width="3.8" height="3.8" fill="#b80f3a" stroke="none" stroke-width="1"/>
<line x1="502.19" y1="69.6" x2="502.19" y2="94.4" stroke="#b80f3a" stroke-width="1"/>
<line x1="500.59" y1="69.6" x2="503.79" y2="69.6" stroke="#b80f3a" stroke-width="1"/>
<line x1="500.59" y1="94.4" x2="503.79" y2="94.4" stroke="#b80f3a" stroke-width="1"/>
<rect x="500.29" y="72.7" width="3.8" height="3.8" fill="#b80f3a" stroke="none" stroke-width="1"/>
<circle cx="426.69" cy="85.6" r="1.9" fill="#2c4880" stroke="none" stroke-width="1"/>
<line x1="432.73" y1="75.8" x2="432.73" y2="78.8" stroke="#2c4880" stroke-width="1"/>
<line x1="431.13" y1="75.8" x2="434.33" y2="75.8" stroke="#2c4880" stroke-width="1"/>
<line x1="431.13" y1="78.8" x2="434.33" y2="78.8" stroke="#2c4880" stroke-width="1"/>
<circle cx="432.73" cy="77.3" r="1.9" fill="#2c4880" stroke="none" stroke-width="1"/>
<line x1="438.77" y1="86.8" x2="438.77" y2="89.8" stroke="#2c4880" stroke-width="1"/>
<line x1="437.17" y1="86.8" x2="440.37" y2="86.8" stroke="#2c4880" stroke-width="1"/>
<line x1="437.17" y1="89.8" x2="440.37" y2="89.8" stroke="#2c4880" stroke-width="1"/>
<circle cx="438.77" cy="88.3" r="1.9" fill="#2c4880" stroke="none" stroke-width="1"/>
<line x1="443.3" y1="115.2" x2="443.3" y2="119.6" stroke="#2c4880" stroke-width="1"/>
<line x1="441.7" y1="115.2" x2="444.9" y2="115.2" stroke="#2c4880" stroke-width="1"/>
<line x1="441.7" y1="119.6" x2="444.9" y2="119.6" stroke="#2c4880" stroke-width="1"/>
<circle cx="443.3" cy="117.4" r="1.9" fill="#2c4880" stroke="none" stroke-width="1"/>
<line x1="449.34" y1="115.9" x2="449.34" y2="118.9" stroke="#2c4880" stroke-width="1"/>
<line x1="447.74" y1="115.9" x2="450.94" y2="115.9" stroke="#2c4880" stroke-width="1"/>
<line x1="447.74" y1="118.9" x2="450.94" y2="118.9" stroke="#2c4880" stroke-width="1"/>
<circle cx="449.34" cy="117.4" r="1.9" fill="#2c4880" stroke="none" stroke-width="1"/>
<line x1="459.91" y1="118.1" x2="459.91" y2="122.5" stroke="#2c4880" stroke-width="1"/>
<line x1="458.31" y1="118.1" x2="461.51" y2="118.1" stroke="#2c4880" stroke-width="1"/>
<line x1="458.31" y1="122.5" x2="461.51" y2="122.5" stroke="#2c4880" stroke-width="1"/>
<circle cx="459.91" cy="120.3" r="1.9" fill="#2c4880" stroke="none" stroke-width="1"/>
<line x1="470.48" y1="115.9" x2="470.48" y2="119.5" stroke="#2c4880" stroke-width="1"/>
<line x1="468.88" y1="115.9" x2="472.08" y2="115.9" stroke="#2c4880" stroke-width="1"/>
<line x1="468.88" y1="119.5" x2="472.08" y2="119.5" stroke="#2c4880" stroke-width="1"/>
<circle cx="470.48" cy="117.7" r="1.9" fill="#2c4880" stroke="none" stroke-width="1"/>
<line x1="481.05" y1="114.3" x2="481.05" y2="117.9" stroke="#2c4880" stroke-width="1"/>
<line x1="479.45" y1="114.3" x2="482.65" y2="114.3" stroke="#2c4880" stroke-width="1"/>
<line x1="479.45" y1="117.9" x2="482.65" y2="117.9" stroke="#2c4880" stroke-width="1"/>
<circle cx="481.05" cy="116.1" r="1.9" fill="#2c4880" stroke="none" stroke-width="1"/>
<line x1="491.62" y1="102.6" x2="491.62" y2="109.4" stroke="#2c4880" stroke-width="1"/>
<line x1="490.02" y1="102.6" x2="493.22" y2="102.6" stroke="#2c4880" stroke-width="1"/>
<line x1="490.02" y1="109.4" x2="493.22" y2="109.4" stroke="#2c4880" stroke-width="1"/>
<circle cx="491.62" cy="105.5" r="1.9" fill="#2c4880" stroke="none" stroke-width="1"/>
<line x1="502.19" y1="95.2" x2="502.19" y2="106" stroke="#2c4880" stroke-width="1"/>
<line x1="500.59" y1="95.2" x2="503.79" y2="95.2" stroke="#2c4880" stroke-width="1"/>
<line x1="500.59" y1="106" x2="503.79" y2="106" stroke="#2c4880" stroke-width="1"/>
<circle cx="502.19" cy="98.6" r="1.9" fill="#2c4880" stroke="none" stroke-width="1"/>
<polygon points="424.49,87.2 426.69,83.4 428.89,87.2" fill="#b80f3a" stroke="none" stroke-width="1"/>
<polygon points="430.53,76.6 432.73,72.8 434.93,76.6" fill="#b80f3a" stroke="none" stroke-width="1"/>
<polygon points="436.57,72.6 438.77,68.8 440.97,72.6" fill="#b80f3a" stroke="none" stroke-width="1"/>
<polygon points="441.1,69.1 443.3,65.3 445.5,69.1" fill="#b80f3a" stroke="none" stroke-width="1"/>
<polygon points="447.14,67.9 449.34,64.1 451.54,67.9" fill="#b80f3a" stroke="none" stroke-width="1"/>
<polygon points="457.71,62.2 459.91,58.4 462.11,62.2" fill="#b80f3a" stroke="none" stroke-width="1"/>
<polygon points="424.39,85.6 426.69,83.3 428.99,85.6 426.69,87.9" fill="#2c4880" stroke="none" stroke-width="1"/>
<polygon points="430.43,73.6 432.73,71.3 435.03,73.6 432.73,75.9" fill="#2c4880" stroke="none" stroke-width="1"/>
<polygon points="436.47,68.9 438.77,66.6 441.07,68.9 438.77,71.2" fill="#2c4880" stroke="none" stroke-width="1"/>
<polygon points="441,66.1 443.3,63.8 445.6,66.1 443.3,68.4" fill="#2c4880" stroke="none" stroke-width="1"/>
<polygon points="447.04,63.5 449.34,61.2 451.64,63.5 449.34,65.8" fill="#2c4880" stroke="none" stroke-width="1"/>
<polygon points="457.61,62.1 459.91,59.8 462.21,62.1 459.91,64.4" fill="#2c4880" stroke="none" stroke-width="1"/>
<text x="481.05" y="83.6" font-size="8" text-anchor="middle">*</text>
<line x1="57.7" y1="200.7" x2="67.3" y2="200.7" stroke="#4a64a0" stroke-width="1.2"/>
<text x="69.6" y="203.6" font-size="7.7" textLength="55" lengthAdjust="spacingAndGlyphs">BCMA CAR + LY</text>
<line x1="57.7" y1="211.6" x2="67.3" y2="211.6" stroke="#c53a5c" stroke-width="1.2"/>
<text x="69.6" y="214.5" font-size="7.7" textLength="70.8" lengthAdjust="spacingAndGlyphs">BCMA CAR + vehicle</text>
<line x1="57.7" y1="222.8" x2="67.3" y2="222.8" stroke="#8aa4d6" stroke-width="1.2" stroke-dasharray="1,0.8"/>
<text x="69.6" y="225.7" font-size="7.7" textLength="53.9" lengthAdjust="spacingAndGlyphs">CD19 CAR + LY</text>
<line x1="57.7" y1="233.5" x2="67.3" y2="233.5" stroke="#e58aa0" stroke-width="1.2" stroke-dasharray="1,0.8"/>
<text x="69.6" y="236.4" font-size="7.7" textLength="68.5" lengthAdjust="spacingAndGlyphs">CD19 CAR + vehicle</text>
<line x1="52.9" y1="241" x2="52.9" y2="316.8" stroke="#231f20" stroke-width="1.2"/>
<line x1="52.3" y1="316.3" x2="145" y2="316.3" stroke="#231f20" stroke-width="1.2"/>
<line x1="49.8" y1="316.3" x2="52.9" y2="316.3" stroke="#231f20" stroke-width="1"/>
<text x="48.3" y="319.2" font-size="8.2" text-anchor="end">0</text>
<line x1="49.8" y1="282.3" x2="52.9" y2="282.3" stroke="#231f20" stroke-width="1"/>
<text x="48.3" y="285.2" font-size="8.2" text-anchor="end">50</text>
<line x1="49.8" y1="248.3" x2="52.9" y2="248.3" stroke="#231f20" stroke-width="1"/>
<text x="48.3" y="251.2" font-size="8.2" text-anchor="end">100</text>
<line x1="51.2" y1="299.3" x2="52.9" y2="299.3" stroke="#231f20" stroke-width="0.7"/>
<line x1="51.2" y1="265.3" x2="52.9" y2="265.3" stroke="#231f20" stroke-width="0.7"/>
<line x1="52.9" y1="316.3" x2="52.9" y2="319.3" stroke="#231f20" stroke-width="1"/>
<text x="52.9" y="329.7" font-size="8.4" text-anchor="middle">0</text>
<line x1="83" y1="316.3" x2="83" y2="319.3" stroke="#231f20" stroke-width="1"/>
<text x="83" y="329.7" font-size="8.4" text-anchor="middle">20</text>
<line x1="113.2" y1="316.3" x2="113.2" y2="319.3" stroke="#231f20" stroke-width="1"/>
<text x="113.2" y="329.7" font-size="8.4" text-anchor="middle">40</text>
<line x1="143.2" y1="316.3" x2="143.2" y2="319.3" stroke="#231f20" stroke-width="1"/>
<text x="143.2" y="329.7" font-size="8.4" text-anchor="middle">50</text>
<line x1="67.9" y1="316.3" x2="67.9" y2="318" stroke="#231f20" stroke-width="0.7"/>
<line x1="98.1" y1="316.3" x2="98.1" y2="318" stroke="#231f20" stroke-width="0.7"/>
<line x1="128.2" y1="316.3" x2="128.2" y2="318" stroke="#231f20" stroke-width="0.7"/>
<text x="99.3" y="342" font-size="8.6" text-anchor="middle" textLength="81.5" lengthAdjust="spacingAndGlyphs">Days after T cell injection</text>
<text x="27.6" y="278.5" font-size="8.8" text-anchor="middle" textLength="39.5" lengthAdjust="spacingAndGlyphs" transform="rotate(-90 27.6 278.5)">Survival (%)</text>
<path d="M52.9,248.5 H82.7 V293.8 H89.6 V316.3" fill="none" stroke="#e58aa0" stroke-width="1.1" stroke-dasharray="1,0.7"/>
<path d="M52.9,248.5 H83.5 V293.8 H90.3 V316.3" fill="none" stroke="#8aa4d6" stroke-width="1.1" stroke-dasharray="1,0.7"/>
<path d="M52.9,248.5 H97.7 V259.8 H108.5 V293.8 H115.7 V305.2 H120.3 V316.3" fill="none" stroke="#c53a5c" stroke-width="1.2"/>
<path d="M52.9,248.5 H112.7 V259.8 H121.2 V271.0 H126.0 V282.3 H132.3 V293.8 H136.5 V316.3" fill="none" stroke="#4a64a0" stroke-width="1.2"/>
<line x1="122.6" y1="309.3" x2="133" y2="309.3" stroke="#222" stroke-width="1"/>
<text x="127.8" y="309" font-size="7.2" text-anchor="middle">**</text>
<rect x="224.6" y="204.2" width="34.2" height="52" fill="#eaeaea" stroke="none" stroke-width="1"/>
<polygon points="204.2,256.2 204.2,256.01 204.47,255.98 204.74,255.94 205.02,255.9 205.29,255.85 205.56,255.8 205.83,255.74 206.11,255.67 206.38,255.58 206.65,255.49 206.92,255.39 207.19,255.27 207.47,255.13 207.74,254.98 208.01,254.81 208.28,254.61 208.56,254.39 208.83,254.15 209.1,253.87 209.37,253.56 209.64,253.22 209.92,252.84 210.19,252.42 210.46,251.95 210.73,251.43 211.01,250.85 211.28,250.22 211.55,249.53 211.82,248.77 212.09,247.94 212.37,247.04 212.64,246.06 212.91,245 213.18,243.85 213.46,242.62 213.73,241.29 214,239.87 214.27,238.36 214.54,236.76 214.82,235.07 215.09,233.29 215.36,231.42 215.63,229.47 215.91,227.46 216.18,225.38 216.45,223.25 216.72,221.09 216.99,218.91 217.27,216.75 217.54,214.61 217.81,212.55 218.08,210.58 218.36,208.78 218.63,207.18 218.9,205.9 219.17,205.12 219.44,205.73 219.72,207.49 219.99,210.09 220.26,213.31 220.53,216.97 220.81,220.88 221.08,224.88 221.35,228.84 221.62,232.64 221.89,236.19 222.17,239.44 222.44,242.36 222.71,244.91 222.98,247.12 223.26,248.98 223.53,250.54 223.8,251.82 224.07,252.85 224.34,253.66 224.62,254.31 224.89,254.8 225.16,255.18 225.43,255.47 225.71,255.68 225.98,255.83 226.25,255.94 226.52,256.02 226.79,256.08 227.07,256.12 227.34,256.15 227.61,256.16 227.88,256.18 228.16,256.19 228.43,256.19 228.7,256.19 228.7,256.2" fill="#cdd2ea" stroke="none" stroke-width="1" fill-opacity="0.78"/>
<polygon points="210.9,256.2 210.9,256.01 211.14,255.97 211.39,255.93 211.63,255.89 211.88,255.83 212.12,255.77 212.37,255.7 212.61,255.62 212.86,255.52 213.1,255.41 213.34,255.29 213.59,255.14 213.83,254.98 214.08,254.79 214.32,254.58 214.57,254.34 214.81,254.06 215.06,253.75 215.3,253.41 215.54,253.01 215.79,252.58 216.03,252.09 216.28,251.54 216.52,250.93 216.77,250.26 217.01,249.51 217.26,248.68 217.5,247.78 217.74,246.79 217.99,245.7 218.23,244.52 218.48,243.24 218.72,241.85 218.97,240.36 219.21,238.75 219.46,237.04 219.7,235.23 219.94,233.3 220.19,231.28 220.43,229.16 220.68,226.96 220.92,224.69 221.17,222.37 221.41,220.01 221.66,217.65 221.9,215.3 222.14,213.01 222.39,210.83 222.63,208.8 222.88,207.01 223.12,205.55 223.37,204.64 223.61,205.55 223.86,207.54 224.1,210.06 224.34,212.89 224.59,215.91 224.83,219.01 225.08,222.12 225.32,225.18 225.57,228.13 225.81,230.95 226.06,233.61 226.3,236.1 226.54,238.4 226.79,240.52 227.03,242.45 227.28,244.19 227.52,245.76 227.77,247.16 228.01,248.41 228.26,249.51 228.5,250.48 228.74,251.32 228.99,252.06 229.23,252.7 229.48,253.25 229.72,253.72 229.97,254.12 230.21,254.47 230.46,254.76 230.7,255.01 230.94,255.21 231.19,255.39 231.43,255.53 231.68,255.65 231.92,255.75 232.17,255.84 232.41,255.9 232.66,255.96 232.9,256.01 232.9,256.2" fill="#d99a8c" stroke="none" stroke-width="1" fill-opacity="0.5"/>
<polyline points="204.2,256.01 204.47,255.98 204.74,255.94 205.02,255.9 205.29,255.85 205.56,255.8 205.83,255.74 206.11,255.67 206.38,255.58 206.65,255.49 206.92,255.39 207.19,255.27 207.47,255.13 207.74,254.98 208.01,254.81 208.28,254.61 208.56,254.39 208.83,254.15 209.1,253.87 209.37,253.56 209.64,253.22 209.92,252.84 210.19,252.42 210.46,251.95 210.73,251.43 211.01,250.85 211.28,250.22 211.55,249.53 211.82,248.77 212.09,247.94 212.37,247.04 212.64,246.06 212.91,245 213.18,243.85 213.46,242.62 213.73,241.29 214,239.87 214.27,238.36 214.54,236.76 214.82,235.07 215.09,233.29 215.36,231.42 215.63,229.47 215.91,227.46 216.18,225.38 216.45,223.25 216.72,221.09 216.99,218.91 217.27,216.75 217.54,214.61 217.81,212.55 218.08,210.58 218.36,208.78 218.63,207.18 218.9,205.9 219.17,205.12 219.44,205.73 219.72,207.49 219.99,210.09 220.26,213.31 220.53,216.97 220.81,220.88 221.08,224.88 221.35,228.84 221.62,232.64 221.89,236.19 222.17,239.44 222.44,242.36 222.71,244.91 222.98,247.12 223.26,248.98 223.53,250.54 223.8,251.82 224.07,252.85 224.34,253.66 224.62,254.31 224.89,254.8 225.16,255.18 225.43,255.47 225.71,255.68 225.98,255.83 226.25,255.94 226.52,256.02 226.79,256.08 227.07,256.12 227.34,256.15 227.61,256.16 227.88,256.18 228.16,256.19 228.43,256.19 228.7,256.19" stroke="#4a64a8" stroke-width="0.9" fill="none" stroke-dasharray="2.2,0.6"/>
<polyline points="210.9,256.01 211.14,255.97 211.39,255.93 211.63,255.89 211.88,255.83 212.12,255.77 212.37,255.7 212.61,255.62 212.86,255.52 213.1,255.41 213.34,255.29 213.59,255.14 213.83,254.98 214.08,254.79 214.32,254.58 214.57,254.34 214.81,254.06 215.06,253.75 215.3,253.41 215.54,253.01 215.79,252.58 216.03,252.09 216.28,251.54 216.52,250.93 216.77,250.26 217.01,249.51 217.26,248.68 217.5,247.78 217.74,246.79 217.99,245.7 218.23,244.52 218.48,243.24 218.72,241.85 218.97,240.36 219.21,238.75 219.46,237.04 219.7,235.23 219.94,233.3 220.19,231.28 220.43,229.16 220.68,226.96 220.92,224.69 221.17,222.37 221.41,220.01 221.66,217.65 221.9,215.3 222.14,213.01 222.39,210.83 222.63,208.8 222.88,207.01 223.12,205.55 223.37,204.64 223.61,205.55 223.86,207.54 224.1,210.06 224.34,212.89 224.59,215.91 224.83,219.01 225.08,222.12 225.32,225.18 225.57,228.13 225.81,230.95 226.06,233.61 226.3,236.1 226.54,238.4 226.79,240.52 227.03,242.45 227.28,244.19 227.52,245.76 227.77,247.16 228.01,248.41 228.26,249.51 228.5,250.48 228.74,251.32 228.99,252.06 229.23,252.7 229.48,253.25 229.72,253.72 229.97,254.12 230.21,254.47 230.46,254.76 230.7,255.01 230.94,255.21 231.19,255.39 231.43,255.53 231.68,255.65 231.92,255.75 232.17,255.84 232.41,255.9 232.66,255.96 232.9,256.01" stroke="#c3223f" stroke-width="1.0" fill="none" stroke-dasharray="2.2,0.6"/>
<line x1="224.6" y1="204.2" x2="224.6" y2="256.2" stroke="#222" stroke-width="1.2"/>
<line x1="258.8" y1="204.2" x2="258.8" y2="256.2" stroke="#444" stroke-width="1.1"/>
<line x1="198.6" y1="201.4" x2="198.6" y2="256.7" stroke="#231f20" stroke-width="1.3"/>
<line x1="198.1" y1="256.2" x2="259.3" y2="256.2" stroke="#231f20" stroke-width="1.3"/>
<line x1="196.6" y1="249.8" x2="198.6" y2="249.8" stroke="#231f20" stroke-width="0.8"/>
<line x1="196.6" y1="243.4" x2="198.6" y2="243.4" stroke="#231f20" stroke-width="0.8"/>
<line x1="196.6" y1="237" x2="198.6" y2="237" stroke="#231f20" stroke-width="0.8"/>
<line x1="196.6" y1="230.6" x2="198.6" y2="230.6" stroke="#231f20" stroke-width="0.8"/>
<line x1="196.6" y1="224.2" x2="198.6" y2="224.2" stroke="#231f20" stroke-width="0.8"/>
<line x1="196.6" y1="217.8" x2="198.6" y2="217.8" stroke="#231f20" stroke-width="0.8"/>
<line x1="196.6" y1="211.4" x2="198.6" y2="211.4" stroke="#231f20" stroke-width="0.8"/>
<line x1="196.6" y1="205" x2="198.6" y2="205" stroke="#231f20" stroke-width="0.8"/>
<line x1="201.01" y1="256.2" x2="201.01" y2="257.8" stroke="#231f20" stroke-width="0.65"/>
<line x1="202.85" y1="256.2" x2="202.85" y2="257.8" stroke="#231f20" stroke-width="0.65"/>
<line x1="204.27" y1="256.2" x2="204.27" y2="257.8" stroke="#231f20" stroke-width="0.65"/>
<line x1="205.44" y1="256.2" x2="205.44" y2="257.8" stroke="#231f20" stroke-width="0.65"/>
<line x1="206.42" y1="256.2" x2="206.42" y2="257.8" stroke="#231f20" stroke-width="0.65"/>
<line x1="207.28" y1="256.2" x2="207.28" y2="257.8" stroke="#231f20" stroke-width="0.65"/>
<line x1="208.03" y1="256.2" x2="208.03" y2="257.8" stroke="#231f20" stroke-width="0.65"/>
<line x1="208.7" y1="256.2" x2="208.7" y2="258.6" stroke="#231f20" stroke-width="0.8"/>
<line x1="213.13" y1="256.2" x2="213.13" y2="257.8" stroke="#231f20" stroke-width="0.65"/>
<line x1="215.71" y1="256.2" x2="215.71" y2="257.8" stroke="#231f20" stroke-width="0.65"/>
<line x1="217.55" y1="256.2" x2="217.55" y2="257.8" stroke="#231f20" stroke-width="0.65"/>
<line x1="218.97" y1="256.2" x2="218.97" y2="257.8" stroke="#231f20" stroke-width="0.65"/>
<line x1="220.14" y1="256.2" x2="220.14" y2="257.8" stroke="#231f20" stroke-width="0.65"/>
<line x1="221.12" y1="256.2" x2="221.12" y2="257.8" stroke="#231f20" stroke-width="0.65"/>
<line x1="221.98" y1="256.2" x2="221.98" y2="257.8" stroke="#231f20" stroke-width="0.65"/>
<line x1="222.73" y1="256.2" x2="222.73" y2="257.8" stroke="#231f20" stroke-width="0.65"/>
<line x1="223.4" y1="256.2" x2="223.4" y2="258.6" stroke="#231f20" stroke-width="0.8"/>
<line x1="227.83" y1="256.2" x2="227.83" y2="257.8" stroke="#231f20" stroke-width="0.65"/>
<line x1="230.41" y1="256.2" x2="230.41" y2="257.8" stroke="#231f20" stroke-width="0.65"/>
<line x1="232.25" y1="256.2" x2="232.25" y2="257.8" stroke="#231f20" stroke-width="0.65"/>
<line x1="233.67" y1="256.2" x2="233.67" y2="257.8" stroke="#231f20" stroke-width="0.65"/>
<line x1="234.84" y1="256.2" x2="234.84" y2="257.8" stroke="#231f20" stroke-width="0.65"/>
<line x1="235.82" y1="256.2" x2="235.82" y2="257.8" stroke="#231f20" stroke-width="0.65"/>
<line x1="236.68" y1="256.2" x2="236.68" y2="257.8" stroke="#231f20" stroke-width="0.65"/>
<line x1="237.43" y1="256.2" x2="237.43" y2="257.8" stroke="#231f20" stroke-width="0.65"/>
<line x1="238.1" y1="256.2" x2="238.1" y2="258.6" stroke="#231f20" stroke-width="0.8"/>
<line x1="242.53" y1="256.2" x2="242.53" y2="257.8" stroke="#231f20" stroke-width="0.65"/>
<line x1="245.11" y1="256.2" x2="245.11" y2="257.8" stroke="#231f20" stroke-width="0.65"/>
<line x1="246.95" y1="256.2" x2="246.95" y2="257.8" stroke="#231f20" stroke-width="0.65"/>
<line x1="248.37" y1="256.2" x2="248.37" y2="257.8" stroke="#231f20" stroke-width="0.65"/>
<line x1="249.54" y1="256.2" x2="249.54" y2="257.8" stroke="#231f20" stroke-width="0.65"/>
<line x1="250.52" y1="256.2" x2="250.52" y2="257.8" stroke="#231f20" stroke-width="0.65"/>
<line x1="251.38" y1="256.2" x2="251.38" y2="257.8" stroke="#231f20" stroke-width="0.65"/>
<line x1="252.13" y1="256.2" x2="252.13" y2="257.8" stroke="#231f20" stroke-width="0.65"/>
<line x1="252.8" y1="256.2" x2="252.8" y2="258.6" stroke="#231f20" stroke-width="0.8"/>
<line x1="257.23" y1="256.2" x2="257.23" y2="257.8" stroke="#231f20" stroke-width="0.65"/>
<text x="255.3" y="213" font-size="8.2" text-anchor="end" textLength="20.4" lengthAdjust="spacingAndGlyphs">27.5%</text>
<rect x="292.3" y="204.2" width="33.1" height="52" fill="#eaeaea" stroke="none" stroke-width="1"/>
<polygon points="269.4,256.2 269.4,256.01 269.7,255.98 270,255.94 270.3,255.9 270.6,255.85 270.9,255.79 271.2,255.72 271.5,255.64 271.8,255.55 272.1,255.44 272.4,255.32 272.7,255.19 273,255.03 273.3,254.85 273.6,254.65 273.9,254.42 274.2,254.17 274.5,253.88 274.8,253.55 275.1,253.18 275.4,252.77 275.7,252.3 276,251.79 276.3,251.22 276.6,250.58 276.9,249.88 277.2,249.11 277.5,248.26 277.8,247.33 278.1,246.31 278.4,245.2 278.7,244 279,242.69 279.3,241.29 279.6,239.78 279.9,238.17 280.2,236.46 280.5,234.65 280.8,232.74 281.1,230.73 281.4,228.65 281.7,226.49 282,224.27 282.3,222.01 282.6,219.73 282.9,217.46 283.2,215.22 283.5,213.07 283.8,211.03 284.1,209.19 284.4,207.6 284.7,206.41 285,206.17 285.3,207.51 285.6,209.61 285.9,212.2 286.2,215.13 286.5,218.25 286.8,221.47 287.1,224.69 287.4,227.85 287.7,230.89 288,233.78 288.3,236.48 288.6,238.98 288.9,241.26 289.2,243.32 289.5,245.17 289.8,246.82 290.1,248.26 290.4,249.52 290.7,250.62 291,251.56 291.3,252.36 291.6,253.04 291.9,253.62 292.2,254.1 292.5,254.5 292.8,254.83 293.1,255.1 293.4,255.32 293.7,255.5 294,255.65 294.3,255.77 294.6,255.86 294.9,255.94 295.2,256 295.5,256.04 295.8,256.08 296.1,256.11 296.4,256.13 296.4,256.2" fill="#cdd2ea" stroke="none" stroke-width="1" fill-opacity="0.78"/>
<polygon points="278.4,256.2 278.4,256.01 278.76,255.97 279.12,255.92 279.48,255.85 279.84,255.78 280.21,255.68 280.57,255.57 280.93,255.44 281.29,255.29 281.65,255.1 282.01,254.88 282.37,254.62 282.73,254.31 283.09,253.96 283.46,253.54 283.82,253.06 284.18,252.5 284.54,251.86 284.9,251.12 285.26,250.28 285.62,249.32 285.98,248.24 286.34,247.02 286.71,245.66 287.07,244.14 287.43,242.46 287.79,240.62 288.15,238.6 288.51,236.41 288.87,234.06 289.23,231.54 289.59,228.88 289.96,226.1 290.32,223.23 290.68,220.3 291.04,217.38 291.4,214.52 291.76,211.81 292.12,209.37 292.48,207.35 292.84,206.07 293.21,206.79 293.57,208.31 293.93,210.16 294.29,212.2 294.65,214.36 295.01,216.59 295.37,218.84 295.73,221.09 296.09,223.31 296.46,225.49 296.82,227.6 297.18,229.64 297.54,231.59 297.9,233.46 298.26,235.24 298.62,236.91 298.98,238.5 299.34,239.98 299.71,241.37 300.07,242.67 300.43,243.87 300.79,244.99 301.15,246.03 301.51,246.99 301.87,247.87 302.23,248.67 302.59,249.41 302.96,250.09 303.32,250.71 303.68,251.27 304.04,251.78 304.4,252.25 304.76,252.67 305.12,253.05 305.48,253.39 305.84,253.7 306.21,253.98 306.57,254.23 306.93,254.45 307.29,254.65 307.65,254.83 308.01,254.99 308.37,255.13 308.73,255.26 309.09,255.37 309.46,255.47 309.82,255.56 310.18,255.64 310.54,255.71 310.9,255.77 310.9,256.2" fill="#d99a8c" stroke="none" stroke-width="1" fill-opacity="0.5"/>
<polyline points="269.4,256.01 269.7,255.98 270,255.94 270.3,255.9 270.6,255.85 270.9,255.79 271.2,255.72 271.5,255.64 271.8,255.55 272.1,255.44 272.4,255.32 272.7,255.19 273,255.03 273.3,254.85 273.6,254.65 273.9,254.42 274.2,254.17 274.5,253.88 274.8,253.55 275.1,253.18 275.4,252.77 275.7,252.3 276,251.79 276.3,251.22 276.6,250.58 276.9,249.88 277.2,249.11 277.5,248.26 277.8,247.33 278.1,246.31 278.4,245.2 278.7,244 279,242.69 279.3,241.29 279.6,239.78 279.9,238.17 280.2,236.46 280.5,234.65 280.8,232.74 281.1,230.73 281.4,228.65 281.7,226.49 282,224.27 282.3,222.01 282.6,219.73 282.9,217.46 283.2,215.22 283.5,213.07 283.8,211.03 284.1,209.19 284.4,207.6 284.7,206.41 285,206.17 285.3,207.51 285.6,209.61 285.9,212.2 286.2,215.13 286.5,218.25 286.8,221.47 287.1,224.69 287.4,227.85 287.7,230.89 288,233.78 288.3,236.48 288.6,238.98 288.9,241.26 289.2,243.32 289.5,245.17 289.8,246.82 290.1,248.26 290.4,249.52 290.7,250.62 291,251.56 291.3,252.36 291.6,253.04 291.9,253.62 292.2,254.1 292.5,254.5 292.8,254.83 293.1,255.1 293.4,255.32 293.7,255.5 294,255.65 294.3,255.77 294.6,255.86 294.9,255.94 295.2,256 295.5,256.04 295.8,256.08 296.1,256.11 296.4,256.13" stroke="#4a64a8" stroke-width="0.9" fill="none" stroke-dasharray="2.2,0.6"/>
<polyline points="278.4,256.01 278.76,255.97 279.12,255.92 279.48,255.85 279.84,255.78 280.21,255.68 280.57,255.57 280.93,255.44 281.29,255.29 281.65,255.1 282.01,254.88 282.37,254.62 282.73,254.31 283.09,253.96 283.46,253.54 283.82,253.06 284.18,252.5 284.54,251.86 284.9,251.12 285.26,250.28 285.62,249.32 285.98,248.24 286.34,247.02 286.71,245.66 287.07,244.14 287.43,242.46 287.79,240.62 288.15,238.6 288.51,236.41 288.87,234.06 289.23,231.54 289.59,228.88 289.96,226.1 290.32,223.23 290.68,220.3 291.04,217.38 291.4,214.52 291.76,211.81 292.12,209.37 292.48,207.35 292.84,206.07 293.21,206.79 293.57,208.31 293.93,210.16 294.29,212.2 294.65,214.36 295.01,216.59 295.37,218.84 295.73,221.09 296.09,223.31 296.46,225.49 296.82,227.6 297.18,229.64 297.54,231.59 297.9,233.46 298.26,235.24 298.62,236.91 298.98,238.5 299.34,239.98 299.71,241.37 300.07,242.67 300.43,243.87 300.79,244.99 301.15,246.03 301.51,246.99 301.87,247.87 302.23,248.67 302.59,249.41 302.96,250.09 303.32,250.71 303.68,251.27 304.04,251.78 304.4,252.25 304.76,252.67 305.12,253.05 305.48,253.39 305.84,253.7 306.21,253.98 306.57,254.23 306.93,254.45 307.29,254.65 307.65,254.83 308.01,254.99 308.37,255.13 308.73,255.26 309.09,255.37 309.46,255.47 309.82,255.56 310.18,255.64 310.54,255.71 310.9,255.77" stroke="#c3223f" stroke-width="1.0" fill="none" stroke-dasharray="2.2,0.6"/>
<line x1="292.3" y1="204.2" x2="292.3" y2="256.2" stroke="#222" stroke-width="1.2"/>
<line x1="325.4" y1="204.2" x2="325.4" y2="256.2" stroke="#444" stroke-width="1.1"/>
<line x1="266.5" y1="201.4" x2="266.5" y2="256.7" stroke="#231f20" stroke-width="1.3"/>
<line x1="266" y1="256.2" x2="325.9" y2="256.2" stroke="#231f20" stroke-width="1.3"/>
<line x1="264.5" y1="249.8" x2="266.5" y2="249.8" stroke="#231f20" stroke-width="0.8"/>
<line x1="264.5" y1="243.4" x2="266.5" y2="243.4" stroke="#231f20" stroke-width="0.8"/>
<line x1="264.5" y1="237" x2="266.5" y2="237" stroke="#231f20" stroke-width="0.8"/>
<line x1="264.5" y1="230.6" x2="266.5" y2="230.6" stroke="#231f20" stroke-width="0.8"/>
<line x1="264.5" y1="224.2" x2="266.5" y2="224.2" stroke="#231f20" stroke-width="0.8"/>
<line x1="264.5" y1="217.8" x2="266.5" y2="217.8" stroke="#231f20" stroke-width="0.8"/>
<line x1="264.5" y1="211.4" x2="266.5" y2="211.4" stroke="#231f20" stroke-width="0.8"/>
<line x1="264.5" y1="205" x2="266.5" y2="205" stroke="#231f20" stroke-width="0.8"/>
<line x1="268.91" y1="256.2" x2="268.91" y2="257.8" stroke="#231f20" stroke-width="0.65"/>
<line x1="270.75" y1="256.2" x2="270.75" y2="257.8" stroke="#231f20" stroke-width="0.65"/>
<line x1="272.17" y1="256.2" x2="272.17" y2="257.8" stroke="#231f20" stroke-width="0.65"/>
<line x1="273.34" y1="256.2" x2="273.34" y2="257.8" stroke="#231f20" stroke-width="0.65"/>
<line x1="274.32" y1="256.2" x2="274.32" y2="257.8" stroke="#231f20" stroke-width="0.65"/>
<line x1="275.18" y1="256.2" x2="275.18" y2="257.8" stroke="#231f20" stroke-width="0.65"/>
<line x1="275.93" y1="256.2" x2="275.93" y2="257.8" stroke="#231f20" stroke-width="0.65"/>
<line x1="276.6" y1="256.2" x2="276.6" y2="258.6" stroke="#231f20" stroke-width="0.8"/>
<line x1="281.03" y1="256.2" x2="281.03" y2="257.8" stroke="#231f20" stroke-width="0.65"/>
<line x1="283.61" y1="256.2" x2="283.61" y2="257.8" stroke="#231f20" stroke-width="0.65"/>
<line x1="285.45" y1="256.2" x2="285.45" y2="257.8" stroke="#231f20" stroke-width="0.65"/>
<line x1="286.87" y1="256.2" x2="286.87" y2="257.8" stroke="#231f20" stroke-width="0.65"/>
<line x1="288.04" y1="256.2" x2="288.04" y2="257.8" stroke="#231f20" stroke-width="0.65"/>
<line x1="289.02" y1="256.2" x2="289.02" y2="257.8" stroke="#231f20" stroke-width="0.65"/>
<line x1="289.88" y1="256.2" x2="289.88" y2="257.8" stroke="#231f20" stroke-width="0.65"/>
<line x1="290.63" y1="256.2" x2="290.63" y2="257.8" stroke="#231f20" stroke-width="0.65"/>
<line x1="291.3" y1="256.2" x2="291.3" y2="258.6" stroke="#231f20" stroke-width="0.8"/>
<line x1="295.73" y1="256.2" x2="295.73" y2="257.8" stroke="#231f20" stroke-width="0.65"/>
<line x1="298.31" y1="256.2" x2="298.31" y2="257.8" stroke="#231f20" stroke-width="0.65"/>
<line x1="300.15" y1="256.2" x2="300.15" y2="257.8" stroke="#231f20" stroke-width="0.65"/>
<line x1="301.57" y1="256.2" x2="301.57" y2="257.8" stroke="#231f20" stroke-width="0.65"/>
<line x1="302.74" y1="256.2" x2="302.74" y2="257.8" stroke="#231f20" stroke-width="0.65"/>
<line x1="303.72" y1="256.2" x2="303.72" y2="257.8" stroke="#231f20" stroke-width="0.65"/>
<line x1="304.58" y1="256.2" x2="304.58" y2="257.8" stroke="#231f20" stroke-width="0.65"/>
<line x1="305.33" y1="256.2" x2="305.33" y2="257.8" stroke="#231f20" stroke-width="0.65"/>
<line x1="306" y1="256.2" x2="306" y2="258.6" stroke="#231f20" stroke-width="0.8"/>
<line x1="310.43" y1="256.2" x2="310.43" y2="257.8" stroke="#231f20" stroke-width="0.65"/>
<line x1="313.01" y1="256.2" x2="313.01" y2="257.8" stroke="#231f20" stroke-width="0.65"/>
<line x1="314.85" y1="256.2" x2="314.85" y2="257.8" stroke="#231f20" stroke-width="0.65"/>
<line x1="316.27" y1="256.2" x2="316.27" y2="257.8" stroke="#231f20" stroke-width="0.65"/>
<line x1="317.44" y1="256.2" x2="317.44" y2="257.8" stroke="#231f20" stroke-width="0.65"/>
<line x1="318.42" y1="256.2" x2="318.42" y2="257.8" stroke="#231f20" stroke-width="0.65"/>
<line x1="319.28" y1="256.2" x2="319.28" y2="257.8" stroke="#231f20" stroke-width="0.65"/>
<line x1="320.03" y1="256.2" x2="320.03" y2="257.8" stroke="#231f20" stroke-width="0.65"/>
<line x1="320.7" y1="256.2" x2="320.7" y2="258.6" stroke="#231f20" stroke-width="0.8"/>
<text x="322.6" y="212.8" font-size="8.2" text-anchor="end" textLength="20.4" lengthAdjust="spacingAndGlyphs">70.6%</text>
<rect x="357.4" y="204.2" width="36.2" height="52" fill="#eaeaea" stroke="none" stroke-width="1"/>
<polygon points="335.6,256.2 335.6,249.87 335.93,249.37 336.26,248.85 336.59,248.3 336.92,247.71 337.25,247.09 337.58,246.43 337.91,245.73 338.24,244.99 338.57,244.22 338.9,243.4 339.23,242.54 339.56,241.64 339.89,240.7 340.22,239.71 340.55,238.68 340.88,237.61 341.21,236.49 341.54,235.33 341.87,234.13 342.2,232.89 342.53,231.62 342.86,230.3 343.19,228.95 343.52,227.57 343.85,226.16 344.18,224.72 344.51,223.27 344.84,221.8 345.17,220.33 345.5,218.85 345.83,217.37 346.16,215.92 346.49,214.48 346.82,213.08 347.15,211.73 347.48,210.44 347.81,209.23 348.14,208.13 348.47,207.14 348.8,206.33 349.13,205.75 349.46,205.98 349.79,207.4 350.12,209.22 350.45,211.29 350.78,213.51 351.11,215.8 351.44,218.14 351.77,220.47 352.1,222.78 352.43,225.04 352.76,227.23 353.09,229.35 353.42,231.38 353.75,233.31 354.08,235.15 354.41,236.88 354.74,238.51 355.07,240.04 355.4,241.47 355.73,242.79 356.06,244.03 356.39,245.16 356.72,246.22 357.05,247.18 357.38,248.07 357.71,248.89 358.04,249.63 358.37,250.31 358.7,250.92 359.03,251.48 359.36,251.99 359.69,252.44 360.02,252.86 360.35,253.23 360.68,253.56 361.01,253.86 361.34,254.13 361.67,254.37 362,254.58 362.33,254.78 362.66,254.95 362.99,255.1 363.32,255.23 363.65,255.35 363.98,255.46 364.31,255.55 364.64,255.63 364.97,255.7 365.3,255.77 365.3,256.2" fill="#d99a8c" stroke="none" stroke-width="1" fill-opacity="0.5"/>
<polygon points="335.6,256.2 335.6,249.8 335.89,249.38 336.17,248.93 336.46,248.45 336.74,247.95 337.03,247.42 337.31,246.87 337.6,246.29 337.88,245.68 338.17,245.04 338.46,244.37 338.74,243.67 339.03,242.94 339.31,242.18 339.6,241.39 339.88,240.56 340.17,239.7 340.45,238.81 340.74,237.89 341.03,236.93 341.31,235.94 341.6,234.92 341.88,233.87 342.17,232.79 342.45,231.68 342.74,230.54 343.02,229.37 343.31,228.18 343.6,226.96 343.88,225.73 344.17,224.47 344.45,223.2 344.74,221.92 345.02,220.63 345.31,219.34 345.59,218.05 345.88,216.77 346.17,215.49 346.45,214.24 346.74,213.01 347.02,211.81 347.31,210.66 347.59,209.56 347.88,208.53 348.16,207.57 348.45,206.71 348.74,205.98 349.02,205.41 349.31,205.1 349.59,205.97 349.88,207.65 350.16,209.84 350.45,212.39 350.73,215.17 351.02,218.09 351.31,221.08 351.59,224.08 351.88,227.02 352.16,229.86 352.45,232.58 352.73,235.15 353.02,237.54 353.3,239.76 353.59,241.8 353.88,243.65 354.16,245.32 354.45,246.81 354.73,248.15 355.02,249.32 355.3,250.35 355.59,251.25 355.87,252.04 356.16,252.71 356.45,253.29 356.73,253.78 357.02,254.2 357.3,254.55 357.59,254.85 357.87,255.1 358.16,255.3 358.44,255.47 358.73,255.61 359.02,255.73 359.3,255.82 359.59,255.9 359.87,255.96 360.16,256.01 360.44,256.05 360.73,256.08 361.01,256.11 361.3,256.13 361.3,256.2" fill="#cdd2ea" stroke="none" stroke-width="1" fill-opacity="0.78"/>
<polyline points="335.6,249.87 335.93,249.37 336.26,248.85 336.59,248.3 336.92,247.71 337.25,247.09 337.58,246.43 337.91,245.73 338.24,244.99 338.57,244.22 338.9,243.4 339.23,242.54 339.56,241.64 339.89,240.7 340.22,239.71 340.55,238.68 340.88,237.61 341.21,236.49 341.54,235.33 341.87,234.13 342.2,232.89 342.53,231.62 342.86,230.3 343.19,228.95 343.52,227.57 343.85,226.16 344.18,224.72 344.51,223.27 344.84,221.8 345.17,220.33 345.5,218.85 345.83,217.37 346.16,215.92 346.49,214.48 346.82,213.08 347.15,211.73 347.48,210.44 347.81,209.23 348.14,208.13 348.47,207.14 348.8,206.33 349.13,205.75 349.46,205.98 349.79,207.4 350.12,209.22 350.45,211.29 350.78,213.51 351.11,215.8 351.44,218.14 351.77,220.47 352.1,222.78 352.43,225.04 352.76,227.23 353.09,229.35 353.42,231.38 353.75,233.31 354.08,235.15 354.41,236.88 354.74,238.51 355.07,240.04 355.4,241.47 355.73,242.79 356.06,244.03 356.39,245.16 356.72,246.22 357.05,247.18 357.38,248.07 357.71,248.89 358.04,249.63 358.37,250.31 358.7,250.92 359.03,251.48 359.36,251.99 359.69,252.44 360.02,252.86 360.35,253.23 360.68,253.56 361.01,253.86 361.34,254.13 361.67,254.37 362,254.58 362.33,254.78 362.66,254.95 362.99,255.1 363.32,255.23 363.65,255.35 363.98,255.46 364.31,255.55 364.64,255.63 364.97,255.7 365.3,255.77" stroke="#c3223f" stroke-width="1.0" fill="none" stroke-dasharray="2.2,0.6"/>
<polyline points="335.6,249.8 335.89,249.38 336.17,248.93 336.46,248.45 336.74,247.95 337.03,247.42 337.31,246.87 337.6,246.29 337.88,245.68 338.17,245.04 338.46,244.37 338.74,243.67 339.03,242.94 339.31,242.18 339.6,241.39 339.88,240.56 340.17,239.7 340.45,238.81 340.74,237.89 341.03,236.93 341.31,235.94 341.6,234.92 341.88,233.87 342.17,232.79 342.45,231.68 342.74,230.54 343.02,229.37 343.31,228.18 343.6,226.96 343.88,225.73 344.17,224.47 344.45,223.2 344.74,221.92 345.02,220.63 345.31,219.34 345.59,218.05 345.88,216.77 346.17,215.49 346.45,214.24 346.74,213.01 347.02,211.81 347.31,210.66 347.59,209.56 347.88,208.53 348.16,207.57 348.45,206.71 348.74,205.98 349.02,205.41 349.31,205.1 349.59,205.97 349.88,207.65 350.16,209.84 350.45,212.39 350.73,215.17 351.02,218.09 351.31,221.08 351.59,224.08 351.88,227.02 352.16,229.86 352.45,232.58 352.73,235.15 353.02,237.54 353.3,239.76 353.59,241.8 353.88,243.65 354.16,245.32 354.45,246.81 354.73,248.15 355.02,249.32 355.3,250.35 355.59,251.25 355.87,252.04 356.16,252.71 356.45,253.29 356.73,253.78 357.02,254.2 357.3,254.55 357.59,254.85 357.87,255.1 358.16,255.3 358.44,255.47 358.73,255.61 359.02,255.73 359.3,255.82 359.59,255.9 359.87,255.96 360.16,256.01 360.44,256.05 360.73,256.08 361.01,256.11 361.3,256.13" stroke="#4a64a8" stroke-width="0.9" fill="none" stroke-dasharray="2.2,0.6"/>
<line x1="357.4" y1="204.2" x2="357.4" y2="256.2" stroke="#222" stroke-width="1.2"/>
<line x1="393.6" y1="204.2" x2="393.6" y2="256.2" stroke="#444" stroke-width="1.1"/>
<line x1="334.9" y1="201.4" x2="334.9" y2="256.7" stroke="#231f20" stroke-width="1.3"/>
<line x1="334.4" y1="256.2" x2="394.1" y2="256.2" stroke="#231f20" stroke-width="1.3"/>
<line x1="332.9" y1="249.8" x2="334.9" y2="249.8" stroke="#231f20" stroke-width="0.8"/>
<line x1="332.9" y1="243.4" x2="334.9" y2="243.4" stroke="#231f20" stroke-width="0.8"/>
<line x1="332.9" y1="237" x2="334.9" y2="237" stroke="#231f20" stroke-width="0.8"/>
<line x1="332.9" y1="230.6" x2="334.9" y2="230.6" stroke="#231f20" stroke-width="0.8"/>
<line x1="332.9" y1="224.2" x2="334.9" y2="224.2" stroke="#231f20" stroke-width="0.8"/>
<line x1="332.9" y1="217.8" x2="334.9" y2="217.8" stroke="#231f20" stroke-width="0.8"/>
<line x1="332.9" y1="211.4" x2="334.9" y2="211.4" stroke="#231f20" stroke-width="0.8"/>
<line x1="332.9" y1="205" x2="334.9" y2="205" stroke="#231f20" stroke-width="0.8"/>
<line x1="337.31" y1="256.2" x2="337.31" y2="257.8" stroke="#231f20" stroke-width="0.65"/>
<line x1="339.15" y1="256.2" x2="339.15" y2="257.8" stroke="#231f20" stroke-width="0.65"/>
<line x1="340.57" y1="256.2" x2="340.57" y2="257.8" stroke="#231f20" stroke-width="0.65"/>
<line x1="341.74" y1="256.2" x2="341.74" y2="257.8" stroke="#231f20" stroke-width="0.65"/>
<line x1="342.72" y1="256.2" x2="342.72" y2="257.8" stroke="#231f20" stroke-width="0.65"/>
<line x1="343.58" y1="256.2" x2="343.58" y2="257.8" stroke="#231f20" stroke-width="0.65"/>
<line x1="344.33" y1="256.2" x2="344.33" y2="257.8" stroke="#231f20" stroke-width="0.65"/>
<line x1="345" y1="256.2" x2="345" y2="258.6" stroke="#231f20" stroke-width="0.8"/>
<line x1="349.43" y1="256.2" x2="349.43" y2="257.8" stroke="#231f20" stroke-width="0.65"/>
<line x1="352.01" y1="256.2" x2="352.01" y2="257.8" stroke="#231f20" stroke-width="0.65"/>
<line x1="353.85" y1="256.2" x2="353.85" y2="257.8" stroke="#231f20" stroke-width="0.65"/>
<line x1="355.27" y1="256.2" x2="355.27" y2="257.8" stroke="#231f20" stroke-width="0.65"/>
<line x1="356.44" y1="256.2" x2="356.44" y2="257.8" stroke="#231f20" stroke-width="0.65"/>
<line x1="357.42" y1="256.2" x2="357.42" y2="257.8" stroke="#231f20" stroke-width="0.65"/>
<line x1="358.28" y1="256.2" x2="358.28" y2="257.8" stroke="#231f20" stroke-width="0.65"/>
<line x1="359.03" y1="256.2" x2="359.03" y2="257.8" stroke="#231f20" stroke-width="0.65"/>
<line x1="359.7" y1="256.2" x2="359.7" y2="258.6" stroke="#231f20" stroke-width="0.8"/>
<line x1="364.13" y1="256.2" x2="364.13" y2="257.8" stroke="#231f20" stroke-width="0.65"/>
<line x1="366.71" y1="256.2" x2="366.71" y2="257.8" stroke="#231f20" stroke-width="0.65"/>
<line x1="368.55" y1="256.2" x2="368.55" y2="257.8" stroke="#231f20" stroke-width="0.65"/>
<line x1="369.97" y1="256.2" x2="369.97" y2="257.8" stroke="#231f20" stroke-width="0.65"/>
<line x1="371.14" y1="256.2" x2="371.14" y2="257.8" stroke="#231f20" stroke-width="0.65"/>
<line x1="372.12" y1="256.2" x2="372.12" y2="257.8" stroke="#231f20" stroke-width="0.65"/>
<line x1="372.98" y1="256.2" x2="372.98" y2="257.8" stroke="#231f20" stroke-width="0.65"/>
<line x1="373.73" y1="256.2" x2="373.73" y2="257.8" stroke="#231f20" stroke-width="0.65"/>
<line x1="374.4" y1="256.2" x2="374.4" y2="258.6" stroke="#231f20" stroke-width="0.8"/>
<line x1="378.83" y1="256.2" x2="378.83" y2="257.8" stroke="#231f20" stroke-width="0.65"/>
<line x1="381.41" y1="256.2" x2="381.41" y2="257.8" stroke="#231f20" stroke-width="0.65"/>
<line x1="383.25" y1="256.2" x2="383.25" y2="257.8" stroke="#231f20" stroke-width="0.65"/>
<line x1="384.67" y1="256.2" x2="384.67" y2="257.8" stroke="#231f20" stroke-width="0.65"/>
<line x1="385.84" y1="256.2" x2="385.84" y2="257.8" stroke="#231f20" stroke-width="0.65"/>
<line x1="386.82" y1="256.2" x2="386.82" y2="257.8" stroke="#231f20" stroke-width="0.65"/>
<line x1="387.68" y1="256.2" x2="387.68" y2="257.8" stroke="#231f20" stroke-width="0.65"/>
<line x1="388.43" y1="256.2" x2="388.43" y2="257.8" stroke="#231f20" stroke-width="0.65"/>
<line x1="389.1" y1="256.2" x2="389.1" y2="258.6" stroke="#231f20" stroke-width="0.8"/>
<text x="389.9" y="212.4" font-size="8.2" text-anchor="end" textLength="16.3" lengthAdjust="spacingAndGlyphs">7.6%</text>
<rect x="224.9" y="266" width="33.9" height="50" fill="#eaeaea" stroke="none" stroke-width="1"/>
<polygon points="201.6,316 201.6,315.58 201.9,315.53 202.2,315.47 202.5,315.4 202.8,315.33 203.1,315.25 203.4,315.16 203.7,315.06 204,314.95 204.3,314.83 204.6,314.7 204.9,314.55 205.2,314.38 205.5,314.2 205.8,314 206.1,313.78 206.4,313.54 206.7,313.27 207,312.98 207.3,312.66 207.6,312.31 207.9,311.93 208.2,311.52 208.5,311.07 208.8,310.58 209.1,310.04 209.4,309.47 209.7,308.84 210,308.16 210.3,307.44 210.6,306.65 210.9,305.81 211.2,304.91 211.5,303.94 211.8,302.9 212.1,301.8 212.4,300.63 212.7,299.39 213,298.07 213.3,296.68 213.6,295.22 213.9,293.69 214.2,292.09 214.5,290.42 214.8,288.68 215.1,286.89 215.4,285.05 215.7,283.16 216,281.24 216.3,279.31 216.6,277.37 216.9,275.46 217.2,273.59 217.5,271.8 217.8,270.13 218.1,268.65 218.4,267.46 218.7,267.11 219,268.33 219.3,270.57 219.6,273.55 219.9,277.08 220.2,280.93 220.5,284.94 220.8,288.93 221.1,292.79 221.4,296.4 221.7,299.7 222,302.64 222.3,305.21 222.6,307.41 222.9,309.26 223.2,310.78 223.5,312.01 223.8,313 224.1,313.77 224.4,314.36 224.7,314.81 225,315.15 225.3,315.4 225.6,315.58 225.9,315.71 226.2,315.81 226.5,315.87 226.8,315.91 227.1,315.94 227.4,315.96 227.7,315.98 228,315.99 228.3,315.99 228.6,315.99 228.6,316" fill="#cdd2ea" stroke="none" stroke-width="1" fill-opacity="0.78"/>
<polygon points="224.3,316 224.3,315.58 224.67,315.52 225.03,315.46 225.4,315.38 225.77,315.3 226.13,315.21 226.5,315.1 226.87,314.99 227.23,314.86 227.6,314.71 227.97,314.55 228.33,314.37 228.7,314.17 229.07,313.95 229.43,313.7 229.8,313.42 230.17,313.12 230.53,312.78 230.9,312.41 231.27,312 231.63,311.56 232,311.06 232.37,310.52 232.73,309.93 233.1,309.29 233.47,308.59 233.83,307.82 234.2,306.99 234.57,306.1 234.93,305.13 235.3,304.08 235.67,302.96 236.03,301.75 236.4,300.46 236.77,299.09 237.13,297.62 237.5,296.07 237.87,294.44 238.23,292.71 238.6,290.91 238.97,289.02 239.33,287.07 239.7,285.05 240.07,282.98 240.43,280.87 240.8,278.75 241.17,276.63 241.53,274.54 241.9,272.52 242.27,270.62 242.63,268.9 243,267.5 243.37,266.93 243.73,268.57 244.1,270.88 244.47,273.52 244.83,276.33 245.2,279.21 245.57,282.08 245.93,284.9 246.3,287.63 246.67,290.24 247.03,292.71 247.4,295.03 247.77,297.19 248.13,299.19 248.5,301.02 248.87,302.71 249.23,304.23 249.6,305.62 249.97,306.87 250.33,307.99 250.7,309 251.07,309.89 251.43,310.68 251.8,311.39 252.17,312 252.53,312.55 252.9,313.03 253.27,313.44 253.63,313.81 254,314.12 254.37,314.4 254.73,314.63 255.1,314.84 255.47,315.01 255.83,315.16 256.2,315.29 256.57,315.4 256.93,315.5 257.3,315.58 257.3,316" fill="#d99a8c" stroke="none" stroke-width="1" fill-opacity="0.5"/>
<polyline points="201.6,315.58 201.9,315.53 202.2,315.47 202.5,315.4 202.8,315.33 203.1,315.25 203.4,315.16 203.7,315.06 204,314.95 204.3,314.83 204.6,314.7 204.9,314.55 205.2,314.38 205.5,314.2 205.8,314 206.1,313.78 206.4,313.54 206.7,313.27 207,312.98 207.3,312.66 207.6,312.31 207.9,311.93 208.2,311.52 208.5,311.07 208.8,310.58 209.1,310.04 209.4,309.47 209.7,308.84 210,308.16 210.3,307.44 210.6,306.65 210.9,305.81 211.2,304.91 211.5,303.94 211.8,302.9 212.1,301.8 212.4,300.63 212.7,299.39 213,298.07 213.3,296.68 213.6,295.22 213.9,293.69 214.2,292.09 214.5,290.42 214.8,288.68 215.1,286.89 215.4,285.05 215.7,283.16 216,281.24 216.3,279.31 216.6,277.37 216.9,275.46 217.2,273.59 217.5,271.8 217.8,270.13 218.1,268.65 218.4,267.46 218.7,267.11 219,268.33 219.3,270.57 219.6,273.55 219.9,277.08 220.2,280.93 220.5,284.94 220.8,288.93 221.1,292.79 221.4,296.4 221.7,299.7 222,302.64 222.3,305.21 222.6,307.41 222.9,309.26 223.2,310.78 223.5,312.01 223.8,313 224.1,313.77 224.4,314.36 224.7,314.81 225,315.15 225.3,315.4 225.6,315.58 225.9,315.71 226.2,315.81 226.5,315.87 226.8,315.91 227.1,315.94 227.4,315.96 227.7,315.98 228,315.99 228.3,315.99 228.6,315.99" stroke="#4a64a8" stroke-width="0.9" fill="none" stroke-dasharray="2.2,0.6"/>
<polyline points="224.3,315.58 224.67,315.52 225.03,315.46 225.4,315.38 225.77,315.3 226.13,315.21 226.5,315.1 226.87,314.99 227.23,314.86 227.6,314.71 227.97,314.55 228.33,314.37 228.7,314.17 229.07,313.95 229.43,313.7 229.8,313.42 230.17,313.12 230.53,312.78 230.9,312.41 231.27,312 231.63,311.56 232,311.06 232.37,310.52 232.73,309.93 233.1,309.29 233.47,308.59 233.83,307.82 234.2,306.99 234.57,306.1 234.93,305.13 235.3,304.08 235.67,302.96 236.03,301.75 236.4,300.46 236.77,299.09 237.13,297.62 237.5,296.07 237.87,294.44 238.23,292.71 238.6,290.91 238.97,289.02 239.33,287.07 239.7,285.05 240.07,282.98 240.43,280.87 240.8,278.75 241.17,276.63 241.53,274.54 241.9,272.52 242.27,270.62 242.63,268.9 243,267.5 243.37,266.93 243.73,268.57 244.1,270.88 244.47,273.52 244.83,276.33 245.2,279.21 245.57,282.08 245.93,284.9 246.3,287.63 246.67,290.24 247.03,292.71 247.4,295.03 247.77,297.19 248.13,299.19 248.5,301.02 248.87,302.71 249.23,304.23 249.6,305.62 249.97,306.87 250.33,307.99 250.7,309 251.07,309.89 251.43,310.68 251.8,311.39 252.17,312 252.53,312.55 252.9,313.03 253.27,313.44 253.63,313.81 254,314.12 254.37,314.4 254.73,314.63 255.1,314.84 255.47,315.01 255.83,315.16 256.2,315.29 256.57,315.4 256.93,315.5 257.3,315.58" stroke="#c3223f" stroke-width="1.0" fill="none" stroke-dasharray="2.2,0.6"/>
<line x1="224.9" y1="266" x2="224.9" y2="316" stroke="#555" stroke-width="1.2"/>
<line x1="258.8" y1="266" x2="258.8" y2="316" stroke="#444" stroke-width="1.1"/>
<line x1="198.6" y1="263.2" x2="198.6" y2="316.5" stroke="#231f20" stroke-width="1.3"/>
<line x1="198.1" y1="316" x2="259.3" y2="316" stroke="#231f20" stroke-width="1.3"/>
<line x1="196.6" y1="309.6" x2="198.6" y2="309.6" stroke="#231f20" stroke-width="0.8"/>
<line x1="196.6" y1="303.2" x2="198.6" y2="303.2" stroke="#231f20" stroke-width="0.8"/>
<line x1="196.6" y1="296.8" x2="198.6" y2="296.8" stroke="#231f20" stroke-width="0.8"/>
<line x1="196.6" y1="290.4" x2="198.6" y2="290.4" stroke="#231f20" stroke-width="0.8"/>
<line x1="196.6" y1="284" x2="198.6" y2="284" stroke="#231f20" stroke-width="0.8"/>
<line x1="196.6" y1="277.6" x2="198.6" y2="277.6" stroke="#231f20" stroke-width="0.8"/>
<line x1="196.6" y1="271.2" x2="198.6" y2="271.2" stroke="#231f20" stroke-width="0.8"/>
<line x1="196.6" y1="264.8" x2="198.6" y2="264.8" stroke="#231f20" stroke-width="0.8"/>
<line x1="201.01" y1="316" x2="201.01" y2="317.6" stroke="#231f20" stroke-width="0.65"/>
<line x1="202.85" y1="316" x2="202.85" y2="317.6" stroke="#231f20" stroke-width="0.65"/>
<line x1="204.27" y1="316" x2="204.27" y2="317.6" stroke="#231f20" stroke-width="0.65"/>
<line x1="205.44" y1="316" x2="205.44" y2="317.6" stroke="#231f20" stroke-width="0.65"/>
<line x1="206.42" y1="316" x2="206.42" y2="317.6" stroke="#231f20" stroke-width="0.65"/>
<line x1="207.28" y1="316" x2="207.28" y2="317.6" stroke="#231f20" stroke-width="0.65"/>
<line x1="208.03" y1="316" x2="208.03" y2="317.6" stroke="#231f20" stroke-width="0.65"/>
<line x1="208.7" y1="316" x2="208.7" y2="318.4" stroke="#231f20" stroke-width="0.8"/>
<line x1="213.13" y1="316" x2="213.13" y2="317.6" stroke="#231f20" stroke-width="0.65"/>
<line x1="215.71" y1="316" x2="215.71" y2="317.6" stroke="#231f20" stroke-width="0.65"/>
<line x1="217.55" y1="316" x2="217.55" y2="317.6" stroke="#231f20" stroke-width="0.65"/>
<line x1="218.97" y1="316" x2="218.97" y2="317.6" stroke="#231f20" stroke-width="0.65"/>
<line x1="220.14" y1="316" x2="220.14" y2="317.6" stroke="#231f20" stroke-width="0.65"/>
<line x1="221.12" y1="316" x2="221.12" y2="317.6" stroke="#231f20" stroke-width="0.65"/>
<line x1="221.98" y1="316" x2="221.98" y2="317.6" stroke="#231f20" stroke-width="0.65"/>
<line x1="222.73" y1="316" x2="222.73" y2="317.6" stroke="#231f20" stroke-width="0.65"/>
<line x1="223.4" y1="316" x2="223.4" y2="318.4" stroke="#231f20" stroke-width="0.8"/>
<line x1="227.83" y1="316" x2="227.83" y2="317.6" stroke="#231f20" stroke-width="0.65"/>
<line x1="230.41" y1="316" x2="230.41" y2="317.6" stroke="#231f20" stroke-width="0.65"/>
<line x1="232.25" y1="316" x2="232.25" y2="317.6" stroke="#231f20" stroke-width="0.65"/>
<line x1="233.67" y1="316" x2="233.67" y2="317.6" stroke="#231f20" stroke-width="0.65"/>
<line x1="234.84" y1="316" x2="234.84" y2="317.6" stroke="#231f20" stroke-width="0.65"/>
<line x1="235.82" y1="316" x2="235.82" y2="317.6" stroke="#231f20" stroke-width="0.65"/>
<line x1="236.68" y1="316" x2="236.68" y2="317.6" stroke="#231f20" stroke-width="0.65"/>
<line x1="237.43" y1="316" x2="237.43" y2="317.6" stroke="#231f20" stroke-width="0.65"/>
<line x1="238.1" y1="316" x2="238.1" y2="318.4" stroke="#231f20" stroke-width="0.8"/>
<line x1="242.53" y1="316" x2="242.53" y2="317.6" stroke="#231f20" stroke-width="0.65"/>
<line x1="245.11" y1="316" x2="245.11" y2="317.6" stroke="#231f20" stroke-width="0.65"/>
<line x1="246.95" y1="316" x2="246.95" y2="317.6" stroke="#231f20" stroke-width="0.65"/>
<line x1="248.37" y1="316" x2="248.37" y2="317.6" stroke="#231f20" stroke-width="0.65"/>
<line x1="249.54" y1="316" x2="249.54" y2="317.6" stroke="#231f20" stroke-width="0.65"/>
<line x1="250.52" y1="316" x2="250.52" y2="317.6" stroke="#231f20" stroke-width="0.65"/>
<line x1="251.38" y1="316" x2="251.38" y2="317.6" stroke="#231f20" stroke-width="0.65"/>
<line x1="252.13" y1="316" x2="252.13" y2="317.6" stroke="#231f20" stroke-width="0.65"/>
<line x1="252.8" y1="316" x2="252.8" y2="318.4" stroke="#231f20" stroke-width="0.8"/>
<line x1="257.23" y1="316" x2="257.23" y2="317.6" stroke="#231f20" stroke-width="0.65"/>
<text x="255.3" y="274.5" font-size="8.2" text-anchor="end" textLength="20.4" lengthAdjust="spacingAndGlyphs">99.8%</text>
<rect x="291.9" y="266" width="34.5" height="50" fill="#eaeaea" stroke="none" stroke-width="1"/>
<polygon points="267.2,316 267.2,313 267.51,312.75 267.81,312.47 268.12,312.18 268.43,311.86 268.73,311.51 269.04,311.14 269.35,310.74 269.65,310.31 269.96,309.85 270.27,309.36 270.57,308.82 270.88,308.25 271.19,307.64 271.49,306.99 271.8,306.29 272.11,305.54 272.41,304.74 272.72,303.88 273.03,302.97 273.33,302 273.64,300.97 273.95,299.87 274.25,298.7 274.56,297.47 274.87,296.16 275.17,294.78 275.48,293.32 275.79,291.79 276.09,290.17 276.4,288.48 276.71,286.71 277.01,284.87 277.32,282.95 277.63,280.97 277.93,278.92 278.24,276.84 278.55,274.72 278.85,272.59 279.16,270.51 279.47,268.53 279.77,266.88 280.08,268.21 280.39,270.15 280.69,272.23 281,274.35 281.31,276.47 281.61,278.56 281.92,280.62 282.23,282.61 282.53,284.54 282.84,286.4 283.15,288.18 283.45,289.88 283.76,291.51 284.07,293.06 284.37,294.53 284.68,295.93 284.99,297.25 285.29,298.49 285.6,299.67 285.91,300.78 286.21,301.82 286.52,302.8 286.83,303.73 287.13,304.59 287.44,305.4 287.75,306.16 288.05,306.87 288.36,307.53 288.67,308.15 288.97,308.73 289.28,309.27 289.59,309.77 289.89,310.24 290.2,310.67 290.51,311.07 290.81,311.45 291.12,311.8 291.43,312.12 291.73,312.42 292.04,312.7 292.35,312.96 292.65,313.2 292.96,313.42 293.27,313.62 293.57,313.81 293.88,313.99 294.19,314.15 294.49,314.3 294.8,314.44 294.8,316" fill="#cdd2ea" stroke="none" stroke-width="1" fill-opacity="0.78"/>
<polygon points="288.6,316 288.6,316 288.97,315.92 289.33,315.75 289.7,315.53 290.07,315.25 290.43,314.92 290.8,314.56 291.17,314.16 291.53,313.72 291.9,313.25 292.27,312.74 292.63,312.2 293,311.64 293.37,311.04 293.73,310.42 294.1,309.76 294.47,309.09 294.83,308.38 295.2,307.65 295.57,306.9 295.93,306.12 296.3,305.32 296.67,304.49 297.03,303.64 297.4,302.77 297.77,301.88 298.13,300.96 298.5,300.03 298.87,299.07 299.23,298.09 299.6,297.1 299.97,296.08 300.33,295.04 300.7,293.98 301.07,292.91 301.43,291.81 301.8,290.69 302.17,289.56 302.53,288.41 302.9,287.24 303.27,286.05 303.63,284.84 304,283.61 304.37,282.37 304.73,281.11 305.1,279.83 305.47,278.54 305.83,277.23 306.2,275.9 306.57,274.56 306.93,273.19 307.3,271.82 307.67,270.42 308.03,269.01 308.4,267.58 308.77,267.1 309.13,268.71 309.5,271.11 309.87,274 310.23,277.21 310.6,280.58 310.97,284 311.33,287.38 311.7,290.63 312.07,293.72 312.43,296.6 312.8,299.24 313.17,301.64 313.53,303.79 313.9,305.69 314.27,307.36 314.63,308.81 315,310.05 315.37,311.12 315.73,312.02 316.1,312.77 316.47,313.4 316.83,313.92 317.2,314.34 317.57,314.69 317.93,314.97 318.3,315.19 318.67,315.37 319.03,315.51 319.4,315.63 319.77,315.71 320.13,315.78 320.5,315.84 320.87,315.88 321.23,315.91 321.6,315.93 321.6,316" fill="#d99a8c" stroke="none" stroke-width="1" fill-opacity="0.5"/>
<polyline points="267.2,313 267.51,312.75 267.81,312.47 268.12,312.18 268.43,311.86 268.73,311.51 269.04,311.14 269.35,310.74 269.65,310.31 269.96,309.85 270.27,309.36 270.57,308.82 270.88,308.25 271.19,307.64 271.49,306.99 271.8,306.29 272.11,305.54 272.41,304.74 272.72,303.88 273.03,302.97 273.33,302 273.64,300.97 273.95,299.87 274.25,298.7 274.56,297.47 274.87,296.16 275.17,294.78 275.48,293.32 275.79,291.79 276.09,290.17 276.4,288.48 276.71,286.71 277.01,284.87 277.32,282.95 277.63,280.97 277.93,278.92 278.24,276.84 278.55,274.72 278.85,272.59 279.16,270.51 279.47,268.53 279.77,266.88 280.08,268.21 280.39,270.15 280.69,272.23 281,274.35 281.31,276.47 281.61,278.56 281.92,280.62 282.23,282.61 282.53,284.54 282.84,286.4 283.15,288.18 283.45,289.88 283.76,291.51 284.07,293.06 284.37,294.53 284.68,295.93 284.99,297.25 285.29,298.49 285.6,299.67 285.91,300.78 286.21,301.82 286.52,302.8 286.83,303.73 287.13,304.59 287.44,305.4 287.75,306.16 288.05,306.87 288.36,307.53 288.67,308.15 288.97,308.73 289.28,309.27 289.59,309.77 289.89,310.24 290.2,310.67 290.51,311.07 290.81,311.45 291.12,311.8 291.43,312.12 291.73,312.42 292.04,312.7 292.35,312.96 292.65,313.2 292.96,313.42 293.27,313.62 293.57,313.81 293.88,313.99 294.19,314.15 294.49,314.3 294.8,314.44" stroke="#4a64a8" stroke-width="0.9" fill="none" stroke-dasharray="2.2,0.6"/>
<polyline points="288.6,316 288.97,315.92 289.33,315.75 289.7,315.53 290.07,315.25 290.43,314.92 290.8,314.56 291.17,314.16 291.53,313.72 291.9,313.25 292.27,312.74 292.63,312.2 293,311.64 293.37,311.04 293.73,310.42 294.1,309.76 294.47,309.09 294.83,308.38 295.2,307.65 295.57,306.9 295.93,306.12 296.3,305.32 296.67,304.49 297.03,303.64 297.4,302.77 297.77,301.88 298.13,300.96 298.5,300.03 298.87,299.07 299.23,298.09 299.6,297.1 299.97,296.08 300.33,295.04 300.7,293.98 301.07,292.91 301.43,291.81 301.8,290.69 302.17,289.56 302.53,288.41 302.9,287.24 303.27,286.05 303.63,284.84 304,283.61 304.37,282.37 304.73,281.11 305.1,279.83 305.47,278.54 305.83,277.23 306.2,275.9 306.57,274.56 306.93,273.19 307.3,271.82 307.67,270.42 308.03,269.01 308.4,267.58 308.77,267.1 309.13,268.71 309.5,271.11 309.87,274 310.23,277.21 310.6,280.58 310.97,284 311.33,287.38 311.7,290.63 312.07,293.72 312.43,296.6 312.8,299.24 313.17,301.64 313.53,303.79 313.9,305.69 314.27,307.36 314.63,308.81 315,310.05 315.37,311.12 315.73,312.02 316.1,312.77 316.47,313.4 316.83,313.92 317.2,314.34 317.57,314.69 317.93,314.97 318.3,315.19 318.67,315.37 319.03,315.51 319.4,315.63 319.77,315.71 320.13,315.78 320.5,315.84 320.87,315.88 321.23,315.91 321.6,315.93" stroke="#c3223f" stroke-width="1.0" fill="none" stroke-dasharray="2.2,0.6"/>
<line x1="291.9" y1="266" x2="291.9" y2="316" stroke="#555" stroke-width="1.2"/>
<line x1="326.4" y1="266" x2="326.4" y2="316" stroke="#444" stroke-width="1.1"/>
<line x1="266.5" y1="263.2" x2="266.5" y2="316.5" stroke="#231f20" stroke-width="1.3"/>
<line x1="266" y1="316" x2="326.9" y2="316" stroke="#231f20" stroke-width="1.3"/>
<line x1="264.5" y1="309.6" x2="266.5" y2="309.6" stroke="#231f20" stroke-width="0.8"/>
<line x1="264.5" y1="303.2" x2="266.5" y2="303.2" stroke="#231f20" stroke-width="0.8"/>
<line x1="264.5" y1="296.8" x2="266.5" y2="296.8" stroke="#231f20" stroke-width="0.8"/>
<line x1="264.5" y1="290.4" x2="266.5" y2="290.4" stroke="#231f20" stroke-width="0.8"/>
<line x1="264.5" y1="284" x2="266.5" y2="284" stroke="#231f20" stroke-width="0.8"/>
<line x1="264.5" y1="277.6" x2="266.5" y2="277.6" stroke="#231f20" stroke-width="0.8"/>
<line x1="264.5" y1="271.2" x2="266.5" y2="271.2" stroke="#231f20" stroke-width="0.8"/>
<line x1="264.5" y1="264.8" x2="266.5" y2="264.8" stroke="#231f20" stroke-width="0.8"/>
<line x1="268.91" y1="316" x2="268.91" y2="317.6" stroke="#231f20" stroke-width="0.65"/>
<line x1="270.75" y1="316" x2="270.75" y2="317.6" stroke="#231f20" stroke-width="0.65"/>
<line x1="272.17" y1="316" x2="272.17" y2="317.6" stroke="#231f20" stroke-width="0.65"/>
<line x1="273.34" y1="316" x2="273.34" y2="317.6" stroke="#231f20" stroke-width="0.65"/>
<line x1="274.32" y1="316" x2="274.32" y2="317.6" stroke="#231f20" stroke-width="0.65"/>
<line x1="275.18" y1="316" x2="275.18" y2="317.6" stroke="#231f20" stroke-width="0.65"/>
<line x1="275.93" y1="316" x2="275.93" y2="317.6" stroke="#231f20" stroke-width="0.65"/>
<line x1="276.6" y1="316" x2="276.6" y2="318.4" stroke="#231f20" stroke-width="0.8"/>
<line x1="281.03" y1="316" x2="281.03" y2="317.6" stroke="#231f20" stroke-width="0.65"/>
<line x1="283.61" y1="316" x2="283.61" y2="317.6" stroke="#231f20" stroke-width="0.65"/>
<line x1="285.45" y1="316" x2="285.45" y2="317.6" stroke="#231f20" stroke-width="0.65"/>
<line x1="286.87" y1="316" x2="286.87" y2="317.6" stroke="#231f20" stroke-width="0.65"/>
<line x1="288.04" y1="316" x2="288.04" y2="317.6" stroke="#231f20" stroke-width="0.65"/>
<line x1="289.02" y1="316" x2="289.02" y2="317.6" stroke="#231f20" stroke-width="0.65"/>
<line x1="289.88" y1="316" x2="289.88" y2="317.6" stroke="#231f20" stroke-width="0.65"/>
<line x1="290.63" y1="316" x2="290.63" y2="317.6" stroke="#231f20" stroke-width="0.65"/>
<line x1="291.3" y1="316" x2="291.3" y2="318.4" stroke="#231f20" stroke-width="0.8"/>
<line x1="295.73" y1="316" x2="295.73" y2="317.6" stroke="#231f20" stroke-width="0.65"/>
<line x1="298.31" y1="316" x2="298.31" y2="317.6" stroke="#231f20" stroke-width="0.65"/>
<line x1="300.15" y1="316" x2="300.15" y2="317.6" stroke="#231f20" stroke-width="0.65"/>
<line x1="301.57" y1="316" x2="301.57" y2="317.6" stroke="#231f20" stroke-width="0.65"/>
<line x1="302.74" y1="316" x2="302.74" y2="317.6" stroke="#231f20" stroke-width="0.65"/>
<line x1="303.72" y1="316" x2="303.72" y2="317.6" stroke="#231f20" stroke-width="0.65"/>
<line x1="304.58" y1="316" x2="304.58" y2="317.6" stroke="#231f20" stroke-width="0.65"/>
<line x1="305.33" y1="316" x2="305.33" y2="317.6" stroke="#231f20" stroke-width="0.65"/>
<line x1="306" y1="316" x2="306" y2="318.4" stroke="#231f20" stroke-width="0.8"/>
<line x1="310.43" y1="316" x2="310.43" y2="317.6" stroke="#231f20" stroke-width="0.65"/>
<line x1="313.01" y1="316" x2="313.01" y2="317.6" stroke="#231f20" stroke-width="0.65"/>
<line x1="314.85" y1="316" x2="314.85" y2="317.6" stroke="#231f20" stroke-width="0.65"/>
<line x1="316.27" y1="316" x2="316.27" y2="317.6" stroke="#231f20" stroke-width="0.65"/>
<line x1="317.44" y1="316" x2="317.44" y2="317.6" stroke="#231f20" stroke-width="0.65"/>
<line x1="318.42" y1="316" x2="318.42" y2="317.6" stroke="#231f20" stroke-width="0.65"/>
<line x1="319.28" y1="316" x2="319.28" y2="317.6" stroke="#231f20" stroke-width="0.65"/>
<line x1="320.03" y1="316" x2="320.03" y2="317.6" stroke="#231f20" stroke-width="0.65"/>
<line x1="320.7" y1="316" x2="320.7" y2="318.4" stroke="#231f20" stroke-width="0.8"/>
<line x1="325.13" y1="316" x2="325.13" y2="317.6" stroke="#231f20" stroke-width="0.65"/>
<text x="324.5" y="274.3" font-size="8.2" text-anchor="end" textLength="20.4" lengthAdjust="spacingAndGlyphs">96.0%</text>
<rect x="353.8" y="266" width="40" height="50" fill="#eaeaea" stroke="none" stroke-width="1"/>
<polygon points="335.6,316 335.6,304.29 335.84,303.95 336.08,303.6 336.33,303.24 336.57,302.86 336.81,302.48 337.05,302.08 337.3,301.67 337.54,301.26 337.78,300.82 338.02,300.38 338.26,299.92 338.51,299.45 338.75,298.97 338.99,298.47 339.23,297.96 339.48,297.43 339.72,296.89 339.96,296.33 340.2,295.75 340.44,295.16 340.69,294.55 340.93,293.92 341.17,293.28 341.41,292.61 341.66,291.93 341.9,291.22 342.14,290.5 342.38,289.75 342.62,288.98 342.87,288.19 343.11,287.38 343.35,286.54 343.59,285.68 343.84,284.79 344.08,283.88 344.32,282.94 344.56,281.97 344.8,280.98 345.05,279.95 345.29,278.9 345.53,277.81 345.77,276.7 346.02,275.55 346.26,274.36 346.5,273.15 346.74,271.89 346.98,270.6 347.23,269.27 347.47,268.38 347.71,269.3 347.95,270.91 348.2,273.03 348.44,275.51 348.68,278.26 348.92,281.17 349.16,284.16 349.41,287.15 349.65,290.09 349.89,292.93 350.13,295.62 350.38,298.14 350.62,300.47 350.86,302.6 351.1,304.52 351.34,306.24 351.59,307.76 351.83,309.09 352.07,310.24 352.31,311.24 352.56,312.09 352.8,312.81 353.04,313.41 353.28,313.91 353.52,314.33 353.77,314.67 354.01,314.95 354.25,315.17 354.49,315.35 354.74,315.5 354.98,315.61 355.22,315.7 355.46,315.77 355.7,315.83 355.95,315.87 356.19,315.9 356.43,315.93 356.67,315.95 356.92,315.96 357.16,315.97 357.4,315.98 357.4,316" fill="#cdd2ea" stroke="none" stroke-width="1" fill-opacity="0.78"/>
<polygon points="368.3,316 368.3,315.14 368.58,315.04 368.85,314.93 369.13,314.81 369.41,314.67 369.68,314.51 369.96,314.35 370.24,314.16 370.51,313.95 370.79,313.72 371.07,313.47 371.34,313.2 371.62,312.89 371.9,312.56 372.17,312.19 372.45,311.79 372.73,311.35 373,310.87 373.28,310.34 373.56,309.77 373.83,309.14 374.11,308.46 374.39,307.73 374.66,306.93 374.94,306.06 375.22,305.13 375.49,304.12 375.77,303.04 376.05,301.87 376.32,300.62 376.6,299.28 376.88,297.86 377.15,296.34 377.43,294.73 377.71,293.02 377.98,291.23 378.26,289.34 378.54,287.36 378.81,285.31 379.09,283.18 379.37,280.99 379.64,278.75 379.92,276.49 380.2,274.24 380.47,272.05 380.75,269.96 381.03,268.1 381.3,266.8 381.58,268.14 381.86,270.01 382.13,272.1 382.41,274.3 382.69,276.55 382.96,278.81 383.24,281.04 383.52,283.23 383.79,285.36 384.07,287.41 384.35,289.39 384.62,291.27 384.9,293.07 385.18,294.77 385.45,296.38 385.73,297.89 386.01,299.32 386.28,300.65 386.56,301.9 386.84,303.06 387.11,304.15 387.39,305.15 387.67,306.08 387.94,306.95 388.22,307.74 388.5,308.48 388.77,309.16 389.05,309.78 389.33,310.35 389.6,310.88 389.88,311.36 390.16,311.8 390.43,312.2 390.71,312.56 390.99,312.9 391.26,313.2 391.54,313.48 391.82,313.73 392.09,313.96 392.37,314.16 392.65,314.35 392.92,314.52 393.2,314.67 393.2,316" fill="#d99a8c" stroke="none" stroke-width="1" fill-opacity="0.5"/>
<polyline points="335.6,304.29 335.84,303.95 336.08,303.6 336.33,303.24 336.57,302.86 336.81,302.48 337.05,302.08 337.3,301.67 337.54,301.26 337.78,300.82 338.02,300.38 338.26,299.92 338.51,299.45 338.75,298.97 338.99,298.47 339.23,297.96 339.48,297.43 339.72,296.89 339.96,296.33 340.2,295.75 340.44,295.16 340.69,294.55 340.93,293.92 341.17,293.28 341.41,292.61 341.66,291.93 341.9,291.22 342.14,290.5 342.38,289.75 342.62,288.98 342.87,288.19 343.11,287.38 343.35,286.54 343.59,285.68 343.84,284.79 344.08,283.88 344.32,282.94 344.56,281.97 344.8,280.98 345.05,279.95 345.29,278.9 345.53,277.81 345.77,276.7 346.02,275.55 346.26,274.36 346.5,273.15 346.74,271.89 346.98,270.6 347.23,269.27 347.47,268.38 347.71,269.3 347.95,270.91 348.2,273.03 348.44,275.51 348.68,278.26 348.92,281.17 349.16,284.16 349.41,287.15 349.65,290.09 349.89,292.93 350.13,295.62 350.38,298.14 350.62,300.47 350.86,302.6 351.1,304.52 351.34,306.24 351.59,307.76 351.83,309.09 352.07,310.24 352.31,311.24 352.56,312.09 352.8,312.81 353.04,313.41 353.28,313.91 353.52,314.33 353.77,314.67 354.01,314.95 354.25,315.17 354.49,315.35 354.74,315.5 354.98,315.61 355.22,315.7 355.46,315.77 355.7,315.83 355.95,315.87 356.19,315.9 356.43,315.93 356.67,315.95 356.92,315.96 357.16,315.97 357.4,315.98" stroke="#4a64a8" stroke-width="0.9" fill="none" stroke-dasharray="2.2,0.6"/>
<polyline points="368.3,315.14 368.58,315.04 368.85,314.93 369.13,314.81 369.41,314.67 369.68,314.51 369.96,314.35 370.24,314.16 370.51,313.95 370.79,313.72 371.07,313.47 371.34,313.2 371.62,312.89 371.9,312.56 372.17,312.19 372.45,311.79 372.73,311.35 373,310.87 373.28,310.34 373.56,309.77 373.83,309.14 374.11,308.46 374.39,307.73 374.66,306.93 374.94,306.06 375.22,305.13 375.49,304.12 375.77,303.04 376.05,301.87 376.32,300.62 376.6,299.28 376.88,297.86 377.15,296.34 377.43,294.73 377.71,293.02 377.98,291.23 378.26,289.34 378.54,287.36 378.81,285.31 379.09,283.18 379.37,280.99 379.64,278.75 379.92,276.49 380.2,274.24 380.47,272.05 380.75,269.96 381.03,268.1 381.3,266.8 381.58,268.14 381.86,270.01 382.13,272.1 382.41,274.3 382.69,276.55 382.96,278.81 383.24,281.04 383.52,283.23 383.79,285.36 384.07,287.41 384.35,289.39 384.62,291.27 384.9,293.07 385.18,294.77 385.45,296.38 385.73,297.89 386.01,299.32 386.28,300.65 386.56,301.9 386.84,303.06 387.11,304.15 387.39,305.15 387.67,306.08 387.94,306.95 388.22,307.74 388.5,308.48 388.77,309.16 389.05,309.78 389.33,310.35 389.6,310.88 389.88,311.36 390.16,311.8 390.43,312.2 390.71,312.56 390.99,312.9 391.26,313.2 391.54,313.48 391.82,313.73 392.09,313.96 392.37,314.16 392.65,314.35 392.92,314.52 393.2,314.67" stroke="#c3223f" stroke-width="1.0" fill="none" stroke-dasharray="2.2,0.6"/>
<line x1="353.8" y1="266" x2="353.8" y2="316" stroke="#555" stroke-width="1.2"/>
<line x1="393.8" y1="266" x2="393.8" y2="316" stroke="#444" stroke-width="1.1"/>
<line x1="334.9" y1="263.2" x2="334.9" y2="316.5" stroke="#231f20" stroke-width="1.3"/>
<line x1="334.4" y1="316" x2="394.3" y2="316" stroke="#231f20" stroke-width="1.3"/>
<line x1="332.9" y1="309.6" x2="334.9" y2="309.6" stroke="#231f20" stroke-width="0.8"/>
<line x1="332.9" y1="303.2" x2="334.9" y2="303.2" stroke="#231f20" stroke-width="0.8"/>
<line x1="332.9" y1="296.8" x2="334.9" y2="296.8" stroke="#231f20" stroke-width="0.8"/>
<line x1="332.9" y1="290.4" x2="334.9" y2="290.4" stroke="#231f20" stroke-width="0.8"/>
<line x1="332.9" y1="284" x2="334.9" y2="284" stroke="#231f20" stroke-width="0.8"/>
<line x1="332.9" y1="277.6" x2="334.9" y2="277.6" stroke="#231f20" stroke-width="0.8"/>
<line x1="332.9" y1="271.2" x2="334.9" y2="271.2" stroke="#231f20" stroke-width="0.8"/>
<line x1="332.9" y1="264.8" x2="334.9" y2="264.8" stroke="#231f20" stroke-width="0.8"/>
<line x1="337.31" y1="316" x2="337.31" y2="317.6" stroke="#231f20" stroke-width="0.65"/>
<line x1="339.15" y1="316" x2="339.15" y2="317.6" stroke="#231f20" stroke-width="0.65"/>
<line x1="340.57" y1="316" x2="340.57" y2="317.6" stroke="#231f20" stroke-width="0.65"/>
<line x1="341.74" y1="316" x2="341.74" y2="317.6" stroke="#231f20" stroke-width="0.65"/>
<line x1="342.72" y1="316" x2="342.72" y2="317.6" stroke="#231f20" stroke-width="0.65"/>
<line x1="343.58" y1="316" x2="343.58" y2="317.6" stroke="#231f20" stroke-width="0.65"/>
<line x1="344.33" y1="316" x2="344.33" y2="317.6" stroke="#231f20" stroke-width="0.65"/>
<line x1="345" y1="316" x2="345" y2="318.4" stroke="#231f20" stroke-width="0.8"/>
<line x1="349.43" y1="316" x2="349.43" y2="317.6" stroke="#231f20" stroke-width="0.65"/>
<line x1="352.01" y1="316" x2="352.01" y2="317.6" stroke="#231f20" stroke-width="0.65"/>
<line x1="353.85" y1="316" x2="353.85" y2="317.6" stroke="#231f20" stroke-width="0.65"/>
<line x1="355.27" y1="316" x2="355.27" y2="317.6" stroke="#231f20" stroke-width="0.65"/>
<line x1="356.44" y1="316" x2="356.44" y2="317.6" stroke="#231f20" stroke-width="0.65"/>
<line x1="357.42" y1="316" x2="357.42" y2="317.6" stroke="#231f20" stroke-width="0.65"/>
<line x1="358.28" y1="316" x2="358.28" y2="317.6" stroke="#231f20" stroke-width="0.65"/>
<line x1="359.03" y1="316" x2="359.03" y2="317.6" stroke="#231f20" stroke-width="0.65"/>
<line x1="359.7" y1="316" x2="359.7" y2="318.4" stroke="#231f20" stroke-width="0.8"/>
<line x1="364.13" y1="316" x2="364.13" y2="317.6" stroke="#231f20" stroke-width="0.65"/>
<line x1="366.71" y1="316" x2="366.71" y2="317.6" stroke="#231f20" stroke-width="0.65"/>
<line x1="368.55" y1="316" x2="368.55" y2="317.6" stroke="#231f20" stroke-width="0.65"/>
<line x1="369.97" y1="316" x2="369.97" y2="317.6" stroke="#231f20" stroke-width="0.65"/>
<line x1="371.14" y1="316" x2="371.14" y2="317.6" stroke="#231f20" stroke-width="0.65"/>
<line x1="372.12" y1="316" x2="372.12" y2="317.6" stroke="#231f20" stroke-width="0.65"/>
<line x1="372.98" y1="316" x2="372.98" y2="317.6" stroke="#231f20" stroke-width="0.65"/>
<line x1="373.73" y1="316" x2="373.73" y2="317.6" stroke="#231f20" stroke-width="0.65"/>
<line x1="374.4" y1="316" x2="374.4" y2="318.4" stroke="#231f20" stroke-width="0.8"/>
<line x1="378.83" y1="316" x2="378.83" y2="317.6" stroke="#231f20" stroke-width="0.65"/>
<line x1="381.41" y1="316" x2="381.41" y2="317.6" stroke="#231f20" stroke-width="0.65"/>
<line x1="383.25" y1="316" x2="383.25" y2="317.6" stroke="#231f20" stroke-width="0.65"/>
<line x1="384.67" y1="316" x2="384.67" y2="317.6" stroke="#231f20" stroke-width="0.65"/>
<line x1="385.84" y1="316" x2="385.84" y2="317.6" stroke="#231f20" stroke-width="0.65"/>
<line x1="386.82" y1="316" x2="386.82" y2="317.6" stroke="#231f20" stroke-width="0.65"/>
<line x1="387.68" y1="316" x2="387.68" y2="317.6" stroke="#231f20" stroke-width="0.65"/>
<line x1="388.43" y1="316" x2="388.43" y2="317.6" stroke="#231f20" stroke-width="0.65"/>
<line x1="389.1" y1="316" x2="389.1" y2="318.4" stroke="#231f20" stroke-width="0.8"/>
<text x="391.6" y="274.3" font-size="8.2" text-anchor="end" textLength="20.4" lengthAdjust="spacingAndGlyphs">99.3%</text>
<text x="229" y="199.6" font-size="8.2" text-anchor="middle" textLength="14" lengthAdjust="spacingAndGlyphs">Pt.1</text>
<text x="297" y="199.6" font-size="8.2" text-anchor="middle" textLength="14" lengthAdjust="spacingAndGlyphs">Pt.2</text>
<text x="364.8" y="199.6" font-size="8.2" text-anchor="middle" textLength="14" lengthAdjust="spacingAndGlyphs">Pt.3</text>
<text x="192.3" y="231.7" font-size="8.2" text-anchor="end" textLength="23" lengthAdjust="spacingAndGlyphs">screen</text>
<text x="192.3" y="287.6" font-size="8.2" text-anchor="end" textLength="16.7" lengthAdjust="spacingAndGlyphs">after</text>
<text x="192.3" y="296.3" font-size="8.2" text-anchor="end" textLength="12.9" lengthAdjust="spacingAndGlyphs">GSI</text>
<line x1="207.3" y1="326.7" x2="352" y2="326.7" stroke="#333" stroke-width="1.1"/>
<polygon points="349.5,324.2 356,326.7 349.5,329.2" fill="#111" stroke="none" stroke-width="1"/>
<text x="360.2" y="330" font-size="8.2" textLength="20.8" lengthAdjust="spacingAndGlyphs">BCMA</text>
<text x="469.6" y="246.1" font-size="8.0" text-anchor="middle" textLength="34.6" lengthAdjust="spacingAndGlyphs"><tspan font-style="italic">p</tspan> = 0.064</text>
<line x1="454.3" y1="252.6" x2="454.3" y2="302.5" stroke="#231f20" stroke-width="1.2"/>
<line x1="454.3" y1="308.2" x2="454.3" y2="316.9" stroke="#231f20" stroke-width="1.2"/>
<line x1="451.5" y1="302.5" x2="456.8" y2="302.5" stroke="#231f20" stroke-width="1.1"/>
<line x1="451.5" y1="308.2" x2="456.8" y2="308.2" stroke="#231f20" stroke-width="1.1"/>
<line x1="451.6" y1="254.3" x2="454.3" y2="254.3" stroke="#231f20" stroke-width="1"/>
<text x="448.8" y="257.2" font-size="8.2" text-anchor="end" textLength="22.3" lengthAdjust="spacingAndGlyphs">20000</text>
<line x1="451.6" y1="267" x2="454.3" y2="267" stroke="#231f20" stroke-width="1"/>
<text x="448.8" y="269.9" font-size="8.2" text-anchor="end" textLength="22.3" lengthAdjust="spacingAndGlyphs">15000</text>
<line x1="451.6" y1="279.7" x2="454.3" y2="279.7" stroke="#231f20" stroke-width="1"/>
<text x="448.8" y="282.6" font-size="8.2" text-anchor="end" textLength="22.3" lengthAdjust="spacingAndGlyphs">10000</text>
<line x1="451.6" y1="292.4" x2="454.3" y2="292.4" stroke="#231f20" stroke-width="1"/>
<text x="448.8" y="295.3" font-size="8.2" text-anchor="end" textLength="17.84" lengthAdjust="spacingAndGlyphs">5000</text>
<line x1="451.6" y1="308.3" x2="454.3" y2="308.3" stroke="#231f20" stroke-width="1"/>
<text x="448.8" y="311.2" font-size="8.2" text-anchor="end" textLength="17.84" lengthAdjust="spacingAndGlyphs">1000</text>
<line x1="451.6" y1="316.3" x2="454.3" y2="316.3" stroke="#231f20" stroke-width="1"/>
<text x="448.8" y="319.2" font-size="8.2" text-anchor="end" textLength="4.46" lengthAdjust="spacingAndGlyphs">0</text>
<line x1="453.7" y1="316.4" x2="485.6" y2="316.4" stroke="#231f20" stroke-width="1.2"/>
<line x1="463.1" y1="316.4" x2="463.1" y2="319" stroke="#231f20" stroke-width="1"/>
<line x1="476.7" y1="316.4" x2="476.7" y2="319" stroke="#231f20" stroke-width="1"/>
<text x="419.6" y="285.5" font-size="8.2" text-anchor="middle" textLength="36" lengthAdjust="spacingAndGlyphs" transform="rotate(-90 419.6 285.5)">BCMA ABC</text>
<line x1="465.8" y1="301.5" x2="476.6" y2="261.7" stroke="#a3022a" stroke-width="1.0"/>
<line x1="465.85" y1="302" x2="476.6" y2="271.3" stroke="#a3022a" stroke-width="1.0"/>
<line x1="465.9" y1="302.5" x2="476.6" y2="287.5" stroke="#a3022a" stroke-width="1.0"/>
<circle cx="476.6" cy="261.7" r="1.2" fill="#a3022a" stroke="none" stroke-width="1"/>
<circle cx="476.6" cy="271.3" r="1.2" fill="#a3022a" stroke="none" stroke-width="1"/>
<circle cx="476.6" cy="287.5" r="1.2" fill="#a3022a" stroke="none" stroke-width="1"/>
<circle cx="463.6" cy="309.5" r="1.1" fill="#a3022a" stroke="none" stroke-width="1"/>
<circle cx="463.2" cy="311.6" r="1.1" fill="#a3022a" stroke="none" stroke-width="1"/>
<circle cx="462.8" cy="314.6" r="1.1" fill="#a3022a" stroke="none" stroke-width="1"/>
<line x1="463.8" y1="308.5" x2="462.6" y2="316.2" stroke="#a3022a" stroke-width="1.2"/>
<text x="465" y="324.2" font-size="7.7" text-anchor="end" textLength="22.5" lengthAdjust="spacingAndGlyphs" transform="rotate(-45 465 324.2)">screen</text>
<text x="479.4" y="323.8" font-size="7.7" text-anchor="end" textLength="33" lengthAdjust="spacingAndGlyphs" transform="rotate(-45 479.4 323.8)">after GSI</text>
<line x1="52.5" y1="424.6" x2="52.5" y2="453.4" stroke="#231f20" stroke-width="1.2"/>
<line x1="52.5" y1="460.3" x2="52.5" y2="487.7" stroke="#231f20" stroke-width="1.2"/>
<line x1="49.8" y1="453.4" x2="55.4" y2="453.4" stroke="#231f20" stroke-width="1.1"/>
<line x1="49.8" y1="460.3" x2="55.4" y2="460.3" stroke="#231f20" stroke-width="1.1"/>
<line x1="49.8" y1="426.5" x2="52.5" y2="426.5" stroke="#231f20" stroke-width="1"/>
<text x="47" y="429.4" font-size="8.2" text-anchor="end">100</text>
<line x1="49.8" y1="440.3" x2="52.5" y2="440.3" stroke="#231f20" stroke-width="1"/>
<text x="47" y="443.2" font-size="8.2" text-anchor="end">50</text>
<line x1="49.8" y1="460.3" x2="52.5" y2="460.3" stroke="#231f20" stroke-width="1"/>
<text x="47" y="463.2" font-size="8.2" text-anchor="end">10</text>
<line x1="49.8" y1="473.9" x2="52.5" y2="473.9" stroke="#231f20" stroke-width="1"/>
<text x="47" y="476.8" font-size="8.2" text-anchor="end">5</text>
<line x1="49.8" y1="487.2" x2="52.5" y2="487.2" stroke="#231f20" stroke-width="1"/>
<text x="47" y="490.1" font-size="8.2" text-anchor="end">0</text>
<line x1="52" y1="487.2" x2="92.7" y2="487.2" stroke="#231f20" stroke-width="1.2"/>
<line x1="63.9" y1="487.2" x2="63.9" y2="490" stroke="#231f20" stroke-width="1"/>
<line x1="81.4" y1="487.2" x2="81.4" y2="490" stroke="#231f20" stroke-width="1"/>
<line x1="63.9" y1="449.8" x2="81.4" y2="432.6" stroke="#a3022a" stroke-width="1.1"/>
<circle cx="63.9" cy="449.8" r="1.5" fill="#a3022a" stroke="none" stroke-width="1"/>
<circle cx="81.4" cy="432.6" r="1.5" fill="#a3022a" stroke="none" stroke-width="1"/>
<line x1="63.9" y1="473.9" x2="81.4" y2="477.9" stroke="#a3022a" stroke-width="1.1"/>
<circle cx="63.9" cy="473.9" r="1.5" fill="#a3022a" stroke="none" stroke-width="1"/>
<circle cx="81.4" cy="477.9" r="1.5" fill="#a3022a" stroke="none" stroke-width="1"/>
<line x1="63.9" y1="483.4" x2="81.4" y2="480.4" stroke="#a3022a" stroke-width="1.1"/>
<circle cx="63.9" cy="483.4" r="1.5" fill="#a3022a" stroke="none" stroke-width="1"/>
<circle cx="81.4" cy="480.4" r="1.5" fill="#a3022a" stroke="none" stroke-width="1"/>
<circle cx="81.4" cy="477" r="1.5" fill="#a3022a" stroke="none" stroke-width="1"/>
<text x="16.8" y="457.5" font-size="8.2" text-anchor="middle" textLength="59" lengthAdjust="spacingAndGlyphs" transform="rotate(-90 16.8 457.5)">Abnormal plasma</text>
<text x="27.8" y="457.6" font-size="8.2" text-anchor="middle" textLength="27.5" lengthAdjust="spacingAndGlyphs" transform="rotate(-90 27.8 457.6)">cells (%)</text>
<text x="66.8" y="493.8" font-size="7.7" text-anchor="end" textLength="22.5" lengthAdjust="spacingAndGlyphs" transform="rotate(-45 66.8 493.8)">screen</text>
<text x="84.8" y="493.8" font-size="7.7" text-anchor="end" textLength="33" lengthAdjust="spacingAndGlyphs" transform="rotate(-45 84.8 493.8)">after GSI</text>
<path d="M169.8,429.3 C170.1,425.25 171.1,411.88 171.6,405 C172.1,398.12 172.48,391.72 172.8,388 C173.12,384.28 173.23,382.7 173.5,382.7 C173.77,382.7 174.1,385.12 174.4,388 C174.7,390.88 174.98,396.23 175.3,400 C175.62,403.77 175.85,407.3 176.3,410.6 C176.75,413.9 177.13,417.47 178,419.8 C178.87,422.13 180.33,423.6 181.5,424.6 C182.67,425.6 184,425.7 185,425.8 C186,425.9 186.63,425.57 187.5,425.2 C188.37,424.83 189.35,423.38 190.2,423.6 C191.05,423.82 191.83,425.55 192.6,426.5 C193.37,427.45 194.43,428.83 194.8,429.3 Z" fill="#dda194" stroke="none" stroke-width="1"/>
<path d="M169.8,429.3 C170.1,425.25 171.1,411.88 171.6,405 C172.1,398.12 172.48,391.72 172.8,388 C173.12,384.28 173.23,382.7 173.5,382.7 C173.77,382.7 174.1,385.12 174.4,388 C174.7,390.88 174.98,396.23 175.3,400 C175.62,403.77 175.85,407.3 176.3,410.6 C176.75,413.9 177.13,417.47 178,419.8 C178.87,422.13 180.33,423.6 181.5,424.6 C182.67,425.6 184,425.7 185,425.8 C186,425.9 186.63,425.57 187.5,425.2 C188.37,424.83 189.35,423.38 190.2,423.6 C191.05,423.82 191.83,425.55 192.6,426.5 C193.37,427.45 194.43,428.83 194.8,429.3" fill="none" stroke="#b8183a" stroke-width="1.1"/>
<rect x="159.1" y="380.4" width="49.3" height="48.9" fill="none" stroke="#111" stroke-width="1.2"/>
<line x1="161.01" y1="429.3" x2="161.01" y2="431.1" stroke="#231f20" stroke-width="0.7"/>
<line x1="161.64" y1="429.3" x2="161.64" y2="431.1" stroke="#231f20" stroke-width="0.7"/>
<line x1="162.19" y1="429.3" x2="162.19" y2="431.1" stroke="#231f20" stroke-width="0.7"/>
<line x1="162.67" y1="429.3" x2="162.67" y2="431.1" stroke="#231f20" stroke-width="0.7"/>
<line x1="163.1" y1="429.3" x2="163.1" y2="431.9" stroke="#231f20" stroke-width="0.85"/>
<line x1="165.93" y1="429.3" x2="165.93" y2="431.1" stroke="#231f20" stroke-width="0.7"/>
<line x1="167.58" y1="429.3" x2="167.58" y2="431.1" stroke="#231f20" stroke-width="0.7"/>
<line x1="168.76" y1="429.3" x2="168.76" y2="431.1" stroke="#231f20" stroke-width="0.7"/>
<line x1="169.67" y1="429.3" x2="169.67" y2="431.1" stroke="#231f20" stroke-width="0.7"/>
<line x1="170.41" y1="429.3" x2="170.41" y2="431.1" stroke="#231f20" stroke-width="0.7"/>
<line x1="171.04" y1="429.3" x2="171.04" y2="431.1" stroke="#231f20" stroke-width="0.7"/>
<line x1="171.59" y1="429.3" x2="171.59" y2="431.1" stroke="#231f20" stroke-width="0.7"/>
<line x1="172.07" y1="429.3" x2="172.07" y2="431.1" stroke="#231f20" stroke-width="0.7"/>
<line x1="172.5" y1="429.3" x2="172.5" y2="431.9" stroke="#231f20" stroke-width="0.85"/>
<line x1="175.33" y1="429.3" x2="175.33" y2="431.1" stroke="#231f20" stroke-width="0.7"/>
<line x1="176.98" y1="429.3" x2="176.98" y2="431.1" stroke="#231f20" stroke-width="0.7"/>
<line x1="178.16" y1="429.3" x2="178.16" y2="431.1" stroke="#231f20" stroke-width="0.7"/>
<line x1="179.07" y1="429.3" x2="179.07" y2="431.1" stroke="#231f20" stroke-width="0.7"/>
<line x1="179.81" y1="429.3" x2="179.81" y2="431.1" stroke="#231f20" stroke-width="0.7"/>
<line x1="180.44" y1="429.3" x2="180.44" y2="431.1" stroke="#231f20" stroke-width="0.7"/>
<line x1="180.99" y1="429.3" x2="180.99" y2="431.1" stroke="#231f20" stroke-width="0.7"/>
<line x1="181.47" y1="429.3" x2="181.47" y2="431.1" stroke="#231f20" stroke-width="0.7"/>
<line x1="181.9" y1="429.3" x2="181.9" y2="431.9" stroke="#231f20" stroke-width="0.85"/>
<line x1="184.73" y1="429.3" x2="184.73" y2="431.1" stroke="#231f20" stroke-width="0.7"/>
<line x1="186.38" y1="429.3" x2="186.38" y2="431.1" stroke="#231f20" stroke-width="0.7"/>
<line x1="187.56" y1="429.3" x2="187.56" y2="431.1" stroke="#231f20" stroke-width="0.7"/>
<line x1="188.47" y1="429.3" x2="188.47" y2="431.1" stroke="#231f20" stroke-width="0.7"/>
<line x1="189.21" y1="429.3" x2="189.21" y2="431.1" stroke="#231f20" stroke-width="0.7"/>
<line x1="189.84" y1="429.3" x2="189.84" y2="431.1" stroke="#231f20" stroke-width="0.7"/>
<line x1="190.39" y1="429.3" x2="190.39" y2="431.1" stroke="#231f20" stroke-width="0.7"/>
<line x1="190.87" y1="429.3" x2="190.87" y2="431.1" stroke="#231f20" stroke-width="0.7"/>
<line x1="191.3" y1="429.3" x2="191.3" y2="431.9" stroke="#231f20" stroke-width="0.85"/>
<line x1="194.13" y1="429.3" x2="194.13" y2="431.1" stroke="#231f20" stroke-width="0.7"/>
<line x1="195.78" y1="429.3" x2="195.78" y2="431.1" stroke="#231f20" stroke-width="0.7"/>
<line x1="196.96" y1="429.3" x2="196.96" y2="431.1" stroke="#231f20" stroke-width="0.7"/>
<line x1="197.87" y1="429.3" x2="197.87" y2="431.1" stroke="#231f20" stroke-width="0.7"/>
<line x1="198.61" y1="429.3" x2="198.61" y2="431.1" stroke="#231f20" stroke-width="0.7"/>
<line x1="199.24" y1="429.3" x2="199.24" y2="431.1" stroke="#231f20" stroke-width="0.7"/>
<line x1="199.79" y1="429.3" x2="199.79" y2="431.1" stroke="#231f20" stroke-width="0.7"/>
<line x1="200.27" y1="429.3" x2="200.27" y2="431.1" stroke="#231f20" stroke-width="0.7"/>
<line x1="200.7" y1="429.3" x2="200.7" y2="431.9" stroke="#231f20" stroke-width="0.85"/>
<line x1="203.53" y1="429.3" x2="203.53" y2="431.1" stroke="#231f20" stroke-width="0.7"/>
<line x1="205.18" y1="429.3" x2="205.18" y2="431.1" stroke="#231f20" stroke-width="0.7"/>
<line x1="206.36" y1="429.3" x2="206.36" y2="431.1" stroke="#231f20" stroke-width="0.7"/>
<text x="193.4" y="400.8" font-size="8.0" text-anchor="middle" textLength="20" lengthAdjust="spacingAndGlyphs">15.2%</text>
<line x1="183.3" y1="403.9" x2="203.3" y2="403.9" stroke="#222" stroke-width="1.0"/>
<line x1="183.3" y1="402.4" x2="183.3" y2="405.4" stroke="#222" stroke-width="0.8"/>
<line x1="203.3" y1="402.4" x2="203.3" y2="405.4" stroke="#222" stroke-width="0.8"/>
<path d="M224.4,429.3 C224.7,425.25 225.68,411.88 226.2,405 C226.72,398.12 227.17,391.78 227.5,388 C227.83,384.22 227.93,382.3 228.2,382.3 C228.47,382.3 228.8,385.05 229.1,388 C229.4,390.95 229.72,396.23 230,400 C230.28,403.77 230.28,407.2 230.8,410.6 C231.32,414 232.23,418.08 233.1,420.4 C233.97,422.72 235.13,423.63 236,424.5 C236.87,425.37 237.05,425.55 238.3,425.6 C239.55,425.65 242.1,425.23 243.5,424.8 C244.9,424.37 245.78,422.72 246.7,423 C247.62,423.28 248.2,425.45 249,426.5 C249.8,427.55 251.08,428.83 251.5,429.3 Z" fill="#dda194" stroke="none" stroke-width="1"/>
<path d="M224.4,429.3 C224.7,425.25 225.68,411.88 226.2,405 C226.72,398.12 227.17,391.78 227.5,388 C227.83,384.22 227.93,382.3 228.2,382.3 C228.47,382.3 228.8,385.05 229.1,388 C229.4,390.95 229.72,396.23 230,400 C230.28,403.77 230.28,407.2 230.8,410.6 C231.32,414 232.23,418.08 233.1,420.4 C233.97,422.72 235.13,423.63 236,424.5 C236.87,425.37 237.05,425.55 238.3,425.6 C239.55,425.65 242.1,425.23 243.5,424.8 C244.9,424.37 245.78,422.72 246.7,423 C247.62,423.28 248.2,425.45 249,426.5 C249.8,427.55 251.08,428.83 251.5,429.3" fill="none" stroke="#b8183a" stroke-width="1.1"/>
<rect x="213.6" y="379.9" width="49.9" height="49.4" fill="none" stroke="#111" stroke-width="1.2"/>
<line x1="215.51" y1="429.3" x2="215.51" y2="431.1" stroke="#231f20" stroke-width="0.7"/>
<line x1="216.14" y1="429.3" x2="216.14" y2="431.1" stroke="#231f20" stroke-width="0.7"/>
<line x1="216.69" y1="429.3" x2="216.69" y2="431.1" stroke="#231f20" stroke-width="0.7"/>
<line x1="217.17" y1="429.3" x2="217.17" y2="431.1" stroke="#231f20" stroke-width="0.7"/>
<line x1="217.6" y1="429.3" x2="217.6" y2="431.9" stroke="#231f20" stroke-width="0.85"/>
<line x1="220.43" y1="429.3" x2="220.43" y2="431.1" stroke="#231f20" stroke-width="0.7"/>
<line x1="222.08" y1="429.3" x2="222.08" y2="431.1" stroke="#231f20" stroke-width="0.7"/>
<line x1="223.26" y1="429.3" x2="223.26" y2="431.1" stroke="#231f20" stroke-width="0.7"/>
<line x1="224.17" y1="429.3" x2="224.17" y2="431.1" stroke="#231f20" stroke-width="0.7"/>
<line x1="224.91" y1="429.3" x2="224.91" y2="431.1" stroke="#231f20" stroke-width="0.7"/>
<line x1="225.54" y1="429.3" x2="225.54" y2="431.1" stroke="#231f20" stroke-width="0.7"/>
<line x1="226.09" y1="429.3" x2="226.09" y2="431.1" stroke="#231f20" stroke-width="0.7"/>
<line x1="226.57" y1="429.3" x2="226.57" y2="431.1" stroke="#231f20" stroke-width="0.7"/>
<line x1="227" y1="429.3" x2="227" y2="431.9" stroke="#231f20" stroke-width="0.85"/>
<line x1="229.83" y1="429.3" x2="229.83" y2="431.1" stroke="#231f20" stroke-width="0.7"/>
<line x1="231.48" y1="429.3" x2="231.48" y2="431.1" stroke="#231f20" stroke-width="0.7"/>
<line x1="232.66" y1="429.3" x2="232.66" y2="431.1" stroke="#231f20" stroke-width="0.7"/>
<line x1="233.57" y1="429.3" x2="233.57" y2="431.1" stroke="#231f20" stroke-width="0.7"/>
<line x1="234.31" y1="429.3" x2="234.31" y2="431.1" stroke="#231f20" stroke-width="0.7"/>
<line x1="234.94" y1="429.3" x2="234.94" y2="431.1" stroke="#231f20" stroke-width="0.7"/>
<line x1="235.49" y1="429.3" x2="235.49" y2="431.1" stroke="#231f20" stroke-width="0.7"/>
<line x1="235.97" y1="429.3" x2="235.97" y2="431.1" stroke="#231f20" stroke-width="0.7"/>
<line x1="236.4" y1="429.3" x2="236.4" y2="431.9" stroke="#231f20" stroke-width="0.85"/>
<line x1="239.23" y1="429.3" x2="239.23" y2="431.1" stroke="#231f20" stroke-width="0.7"/>
<line x1="240.88" y1="429.3" x2="240.88" y2="431.1" stroke="#231f20" stroke-width="0.7"/>
<line x1="242.06" y1="429.3" x2="242.06" y2="431.1" stroke="#231f20" stroke-width="0.7"/>
<line x1="242.97" y1="429.3" x2="242.97" y2="431.1" stroke="#231f20" stroke-width="0.7"/>
<line x1="243.71" y1="429.3" x2="243.71" y2="431.1" stroke="#231f20" stroke-width="0.7"/>
<line x1="244.34" y1="429.3" x2="244.34" y2="431.1" stroke="#231f20" stroke-width="0.7"/>
<line x1="244.89" y1="429.3" x2="244.89" y2="431.1" stroke="#231f20" stroke-width="0.7"/>
<line x1="245.37" y1="429.3" x2="245.37" y2="431.1" stroke="#231f20" stroke-width="0.7"/>
<line x1="245.8" y1="429.3" x2="245.8" y2="431.9" stroke="#231f20" stroke-width="0.85"/>
<line x1="248.63" y1="429.3" x2="248.63" y2="431.1" stroke="#231f20" stroke-width="0.7"/>
<line x1="250.28" y1="429.3" x2="250.28" y2="431.1" stroke="#231f20" stroke-width="0.7"/>
<line x1="251.46" y1="429.3" x2="251.46" y2="431.1" stroke="#231f20" stroke-width="0.7"/>
<line x1="252.37" y1="429.3" x2="252.37" y2="431.1" stroke="#231f20" stroke-width="0.7"/>
<line x1="253.11" y1="429.3" x2="253.11" y2="431.1" stroke="#231f20" stroke-width="0.7"/>
<line x1="253.74" y1="429.3" x2="253.74" y2="431.1" stroke="#231f20" stroke-width="0.7"/>
<line x1="254.29" y1="429.3" x2="254.29" y2="431.1" stroke="#231f20" stroke-width="0.7"/>
<line x1="254.77" y1="429.3" x2="254.77" y2="431.1" stroke="#231f20" stroke-width="0.7"/>
<line x1="255.2" y1="429.3" x2="255.2" y2="431.9" stroke="#231f20" stroke-width="0.85"/>
<line x1="258.03" y1="429.3" x2="258.03" y2="431.1" stroke="#231f20" stroke-width="0.7"/>
<line x1="259.68" y1="429.3" x2="259.68" y2="431.1" stroke="#231f20" stroke-width="0.7"/>
<line x1="260.86" y1="429.3" x2="260.86" y2="431.1" stroke="#231f20" stroke-width="0.7"/>
<line x1="261.77" y1="429.3" x2="261.77" y2="431.1" stroke="#231f20" stroke-width="0.7"/>
<text x="248.8" y="400.6" font-size="8.0" text-anchor="middle" textLength="20.2" lengthAdjust="spacingAndGlyphs">17.5%</text>
<line x1="238.6" y1="403.9" x2="258.8" y2="403.9" stroke="#222" stroke-width="1.0"/>
<line x1="238.6" y1="402.4" x2="238.6" y2="405.4" stroke="#222" stroke-width="0.8"/>
<line x1="258.8" y1="402.4" x2="258.8" y2="405.4" stroke="#222" stroke-width="0.8"/>
<path d="M169.4,487.3 C169.6,484.42 170.25,475.8 170.6,470 C170.95,464.2 171.2,453.33 171.5,452.5 C171.8,451.67 172.07,460.42 172.4,465 C172.73,469.58 173.03,476.67 173.5,480 C173.97,483.33 174.45,484 175.2,485 C175.95,486 176.37,485.78 178,486 C179.63,486.22 183.33,486.33 185,486.3 C186.67,486.27 186.85,485.75 188,485.8 C189.15,485.85 190.9,486.35 191.9,486.6 C192.9,486.85 193.65,487.18 194,487.3 Z" fill="#dda194" stroke="none" stroke-width="1"/>
<path d="M169.4,487.3 C169.6,484.42 170.25,475.8 170.6,470 C170.95,464.2 171.2,453.33 171.5,452.5 C171.8,451.67 172.07,460.42 172.4,465 C172.73,469.58 173.03,476.67 173.5,480 C173.97,483.33 174.45,484 175.2,485 C175.95,486 176.37,485.78 178,486 C179.63,486.22 183.33,486.33 185,486.3 C186.67,486.27 186.85,485.75 188,485.8 C189.15,485.85 190.9,486.35 191.9,486.6 C192.9,486.85 193.65,487.18 194,487.3" fill="none" stroke="#b8183a" stroke-width="1.1"/>
<rect x="159.1" y="438.4" width="49.3" height="48.9" fill="none" stroke="#111" stroke-width="1.2"/>
<line x1="161.01" y1="487.3" x2="161.01" y2="489.1" stroke="#231f20" stroke-width="0.7"/>
<line x1="161.64" y1="487.3" x2="161.64" y2="489.1" stroke="#231f20" stroke-width="0.7"/>
<line x1="162.19" y1="487.3" x2="162.19" y2="489.1" stroke="#231f20" stroke-width="0.7"/>
<line x1="162.67" y1="487.3" x2="162.67" y2="489.1" stroke="#231f20" stroke-width="0.7"/>
<line x1="163.1" y1="487.3" x2="163.1" y2="489.9" stroke="#231f20" stroke-width="0.85"/>
<line x1="165.93" y1="487.3" x2="165.93" y2="489.1" stroke="#231f20" stroke-width="0.7"/>
<line x1="167.58" y1="487.3" x2="167.58" y2="489.1" stroke="#231f20" stroke-width="0.7"/>
<line x1="168.76" y1="487.3" x2="168.76" y2="489.1" stroke="#231f20" stroke-width="0.7"/>
<line x1="169.67" y1="487.3" x2="169.67" y2="489.1" stroke="#231f20" stroke-width="0.7"/>
<line x1="170.41" y1="487.3" x2="170.41" y2="489.1" stroke="#231f20" stroke-width="0.7"/>
<line x1="171.04" y1="487.3" x2="171.04" y2="489.1" stroke="#231f20" stroke-width="0.7"/>
<line x1="171.59" y1="487.3" x2="171.59" y2="489.1" stroke="#231f20" stroke-width="0.7"/>
<line x1="172.07" y1="487.3" x2="172.07" y2="489.1" stroke="#231f20" stroke-width="0.7"/>
<line x1="172.5" y1="487.3" x2="172.5" y2="489.9" stroke="#231f20" stroke-width="0.85"/>
<line x1="175.33" y1="487.3" x2="175.33" y2="489.1" stroke="#231f20" stroke-width="0.7"/>
<line x1="176.98" y1="487.3" x2="176.98" y2="489.1" stroke="#231f20" stroke-width="0.7"/>
<line x1="178.16" y1="487.3" x2="178.16" y2="489.1" stroke="#231f20" stroke-width="0.7"/>
<line x1="179.07" y1="487.3" x2="179.07" y2="489.1" stroke="#231f20" stroke-width="0.7"/>
<line x1="179.81" y1="487.3" x2="179.81" y2="489.1" stroke="#231f20" stroke-width="0.7"/>
<line x1="180.44" y1="487.3" x2="180.44" y2="489.1" stroke="#231f20" stroke-width="0.7"/>
<line x1="180.99" y1="487.3" x2="180.99" y2="489.1" stroke="#231f20" stroke-width="0.7"/>
<line x1="181.47" y1="487.3" x2="181.47" y2="489.1" stroke="#231f20" stroke-width="0.7"/>
<line x1="181.9" y1="487.3" x2="181.9" y2="489.9" stroke="#231f20" stroke-width="0.85"/>
<line x1="184.73" y1="487.3" x2="184.73" y2="489.1" stroke="#231f20" stroke-width="0.7"/>
<line x1="186.38" y1="487.3" x2="186.38" y2="489.1" stroke="#231f20" stroke-width="0.7"/>
<line x1="187.56" y1="487.3" x2="187.56" y2="489.1" stroke="#231f20" stroke-width="0.7"/>
<line x1="188.47" y1="487.3" x2="188.47" y2="489.1" stroke="#231f20" stroke-width="0.7"/>
<line x1="189.21" y1="487.3" x2="189.21" y2="489.1" stroke="#231f20" stroke-width="0.7"/>
<line x1="189.84" y1="487.3" x2="189.84" y2="489.1" stroke="#231f20" stroke-width="0.7"/>
<line x1="190.39" y1="487.3" x2="190.39" y2="489.1" stroke="#231f20" stroke-width="0.7"/>
<line x1="190.87" y1="487.3" x2="190.87" y2="489.1" stroke="#231f20" stroke-width="0.7"/>
<line x1="191.3" y1="487.3" x2="191.3" y2="489.9" stroke="#231f20" stroke-width="0.85"/>
<line x1="194.13" y1="487.3" x2="194.13" y2="489.1" stroke="#231f20" stroke-width="0.7"/>
<line x1="195.78" y1="487.3" x2="195.78" y2="489.1" stroke="#231f20" stroke-width="0.7"/>
<line x1="196.96" y1="487.3" x2="196.96" y2="489.1" stroke="#231f20" stroke-width="0.7"/>
<line x1="197.87" y1="487.3" x2="197.87" y2="489.1" stroke="#231f20" stroke-width="0.7"/>
<line x1="198.61" y1="487.3" x2="198.61" y2="489.1" stroke="#231f20" stroke-width="0.7"/>
<line x1="199.24" y1="487.3" x2="199.24" y2="489.1" stroke="#231f20" stroke-width="0.7"/>
<line x1="199.79" y1="487.3" x2="199.79" y2="489.1" stroke="#231f20" stroke-width="0.7"/>
<line x1="200.27" y1="487.3" x2="200.27" y2="489.1" stroke="#231f20" stroke-width="0.7"/>
<line x1="200.7" y1="487.3" x2="200.7" y2="489.9" stroke="#231f20" stroke-width="0.85"/>
<line x1="203.53" y1="487.3" x2="203.53" y2="489.1" stroke="#231f20" stroke-width="0.7"/>
<line x1="205.18" y1="487.3" x2="205.18" y2="489.1" stroke="#231f20" stroke-width="0.7"/>
<line x1="206.36" y1="487.3" x2="206.36" y2="489.1" stroke="#231f20" stroke-width="0.7"/>
<text x="190.6" y="458.9" font-size="8.0" text-anchor="middle" textLength="24.9" lengthAdjust="spacingAndGlyphs">12.8%</text>
<line x1="178" y1="462.4" x2="202.9" y2="462.4" stroke="#222" stroke-width="1.0"/>
<line x1="178" y1="460.9" x2="178" y2="463.9" stroke="#222" stroke-width="0.8"/>
<line x1="202.9" y1="460.9" x2="202.9" y2="463.9" stroke="#222" stroke-width="0.8"/>
<path d="M224.1,487.3 C224.3,483.58 224.95,472.68 225.3,465 C225.65,457.32 225.92,442.03 226.2,441.2 C226.48,440.37 226.7,453.87 227,460 C227.3,466.13 227.67,473.87 228,478 C228.33,482.13 228.33,483.43 229,484.8 C229.67,486.17 230.17,485.93 232,486.2 C233.83,486.47 237.9,486.22 240,486.4 C242.1,486.58 243.83,487.15 244.6,487.3 Z" fill="#dda194" stroke="none" stroke-width="1"/>
<path d="M224.1,487.3 C224.3,483.58 224.95,472.68 225.3,465 C225.65,457.32 225.92,442.03 226.2,441.2 C226.48,440.37 226.7,453.87 227,460 C227.3,466.13 227.67,473.87 228,478 C228.33,482.13 228.33,483.43 229,484.8 C229.67,486.17 230.17,485.93 232,486.2 C233.83,486.47 237.9,486.22 240,486.4 C242.1,486.58 243.83,487.15 244.6,487.3" fill="none" stroke="#b8183a" stroke-width="1.1"/>
<rect x="213.6" y="438.4" width="49.2" height="48.9" fill="none" stroke="#111" stroke-width="1.2"/>
<line x1="215.51" y1="487.3" x2="215.51" y2="489.1" stroke="#231f20" stroke-width="0.7"/>
<line x1="216.14" y1="487.3" x2="216.14" y2="489.1" stroke="#231f20" stroke-width="0.7"/>
<line x1="216.69" y1="487.3" x2="216.69" y2="489.1" stroke="#231f20" stroke-width="0.7"/>
<line x1="217.17" y1="487.3" x2="217.17" y2="489.1" stroke="#231f20" stroke-width="0.7"/>
<line x1="217.6" y1="487.3" x2="217.6" y2="489.9" stroke="#231f20" stroke-width="0.85"/>
<line x1="220.43" y1="487.3" x2="220.43" y2="489.1" stroke="#231f20" stroke-width="0.7"/>
<line x1="222.08" y1="487.3" x2="222.08" y2="489.1" stroke="#231f20" stroke-width="0.7"/>
<line x1="223.26" y1="487.3" x2="223.26" y2="489.1" stroke="#231f20" stroke-width="0.7"/>
<line x1="224.17" y1="487.3" x2="224.17" y2="489.1" stroke="#231f20" stroke-width="0.7"/>
<line x1="224.91" y1="487.3" x2="224.91" y2="489.1" stroke="#231f20" stroke-width="0.7"/>
<line x1="225.54" y1="487.3" x2="225.54" y2="489.1" stroke="#231f20" stroke-width="0.7"/>
<line x1="226.09" y1="487.3" x2="226.09" y2="489.1" stroke="#231f20" stroke-width="0.7"/>
<line x1="226.57" y1="487.3" x2="226.57" y2="489.1" stroke="#231f20" stroke-width="0.7"/>
<line x1="227" y1="487.3" x2="227" y2="489.9" stroke="#231f20" stroke-width="0.85"/>
<line x1="229.83" y1="487.3" x2="229.83" y2="489.1" stroke="#231f20" stroke-width="0.7"/>
<line x1="231.48" y1="487.3" x2="231.48" y2="489.1" stroke="#231f20" stroke-width="0.7"/>
<line x1="232.66" y1="487.3" x2="232.66" y2="489.1" stroke="#231f20" stroke-width="0.7"/>
<line x1="233.57" y1="487.3" x2="233.57" y2="489.1" stroke="#231f20" stroke-width="0.7"/>
<line x1="234.31" y1="487.3" x2="234.31" y2="489.1" stroke="#231f20" stroke-width="0.7"/>
<line x1="234.94" y1="487.3" x2="234.94" y2="489.1" stroke="#231f20" stroke-width="0.7"/>
<line x1="235.49" y1="487.3" x2="235.49" y2="489.1" stroke="#231f20" stroke-width="0.7"/>
<line x1="235.97" y1="487.3" x2="235.97" y2="489.1" stroke="#231f20" stroke-width="0.7"/>
<line x1="236.4" y1="487.3" x2="236.4" y2="489.9" stroke="#231f20" stroke-width="0.85"/>
<line x1="239.23" y1="487.3" x2="239.23" y2="489.1" stroke="#231f20" stroke-width="0.7"/>
<line x1="240.88" y1="487.3" x2="240.88" y2="489.1" stroke="#231f20" stroke-width="0.7"/>
<line x1="242.06" y1="487.3" x2="242.06" y2="489.1" stroke="#231f20" stroke-width="0.7"/>
<line x1="242.97" y1="487.3" x2="242.97" y2="489.1" stroke="#231f20" stroke-width="0.7"/>
<line x1="243.71" y1="487.3" x2="243.71" y2="489.1" stroke="#231f20" stroke-width="0.7"/>
<line x1="244.34" y1="487.3" x2="244.34" y2="489.1" stroke="#231f20" stroke-width="0.7"/>
<line x1="244.89" y1="487.3" x2="244.89" y2="489.1" stroke="#231f20" stroke-width="0.7"/>
<line x1="245.37" y1="487.3" x2="245.37" y2="489.1" stroke="#231f20" stroke-width="0.7"/>
<line x1="245.8" y1="487.3" x2="245.8" y2="489.9" stroke="#231f20" stroke-width="0.85"/>
<line x1="248.63" y1="487.3" x2="248.63" y2="489.1" stroke="#231f20" stroke-width="0.7"/>
<line x1="250.28" y1="487.3" x2="250.28" y2="489.1" stroke="#231f20" stroke-width="0.7"/>
<line x1="251.46" y1="487.3" x2="251.46" y2="489.1" stroke="#231f20" stroke-width="0.7"/>
<line x1="252.37" y1="487.3" x2="252.37" y2="489.1" stroke="#231f20" stroke-width="0.7"/>
<line x1="253.11" y1="487.3" x2="253.11" y2="489.1" stroke="#231f20" stroke-width="0.7"/>
<line x1="253.74" y1="487.3" x2="253.74" y2="489.1" stroke="#231f20" stroke-width="0.7"/>
<line x1="254.29" y1="487.3" x2="254.29" y2="489.1" stroke="#231f20" stroke-width="0.7"/>
<line x1="254.77" y1="487.3" x2="254.77" y2="489.1" stroke="#231f20" stroke-width="0.7"/>
<line x1="255.2" y1="487.3" x2="255.2" y2="489.9" stroke="#231f20" stroke-width="0.85"/>
<line x1="258.03" y1="487.3" x2="258.03" y2="489.1" stroke="#231f20" stroke-width="0.7"/>
<line x1="259.68" y1="487.3" x2="259.68" y2="489.1" stroke="#231f20" stroke-width="0.7"/>
<line x1="260.86" y1="487.3" x2="260.86" y2="489.1" stroke="#231f20" stroke-width="0.7"/>
<text x="245.3" y="459.2" font-size="8.0" text-anchor="middle" textLength="24.4" lengthAdjust="spacingAndGlyphs">7.40%</text>
<line x1="233.1" y1="462.8" x2="257.5" y2="462.8" stroke="#222" stroke-width="1.0"/>
<line x1="233.1" y1="461.3" x2="233.1" y2="464.3" stroke="#222" stroke-width="0.8"/>
<line x1="257.5" y1="461.3" x2="257.5" y2="464.3" stroke="#222" stroke-width="0.8"/>
<text x="183.4" y="375" font-size="7.7" text-anchor="middle" textLength="23.5" lengthAdjust="spacingAndGlyphs">screen</text>
<text x="238.7" y="375" font-size="7.7" text-anchor="middle" textLength="31.5" lengthAdjust="spacingAndGlyphs">after GSI</text>
<text x="156.4" y="407.5" font-size="8.2" text-anchor="end" textLength="14.3" lengthAdjust="spacingAndGlyphs">Pt.2</text>
<text x="156.4" y="464" font-size="8.2" text-anchor="end" textLength="14.3" lengthAdjust="spacingAndGlyphs">Pt.3</text>
<line x1="169" y1="497.7" x2="218.5" y2="497.7" stroke="#222" stroke-width="1.0"/>
<polygon points="216,495.3 222,497.7 216,500.1" fill="#111" stroke="none" stroke-width="1"/>
<text x="227" y="500.9" font-size="8.4" textLength="14.7" lengthAdjust="spacingAndGlyphs">Ki67</text>
<rect x="0" y="0" width="520" height="1" fill="#000"/>
<rect x="0" y="0" width="1.1" height="526" fill="#000"/>
<rect x="518.85" y="0" width="1.15" height="526" fill="#000"/>
<rect x="0" y="524.85" width="520" height="1.15" fill="#000"/>
</svg>
</body></html>
